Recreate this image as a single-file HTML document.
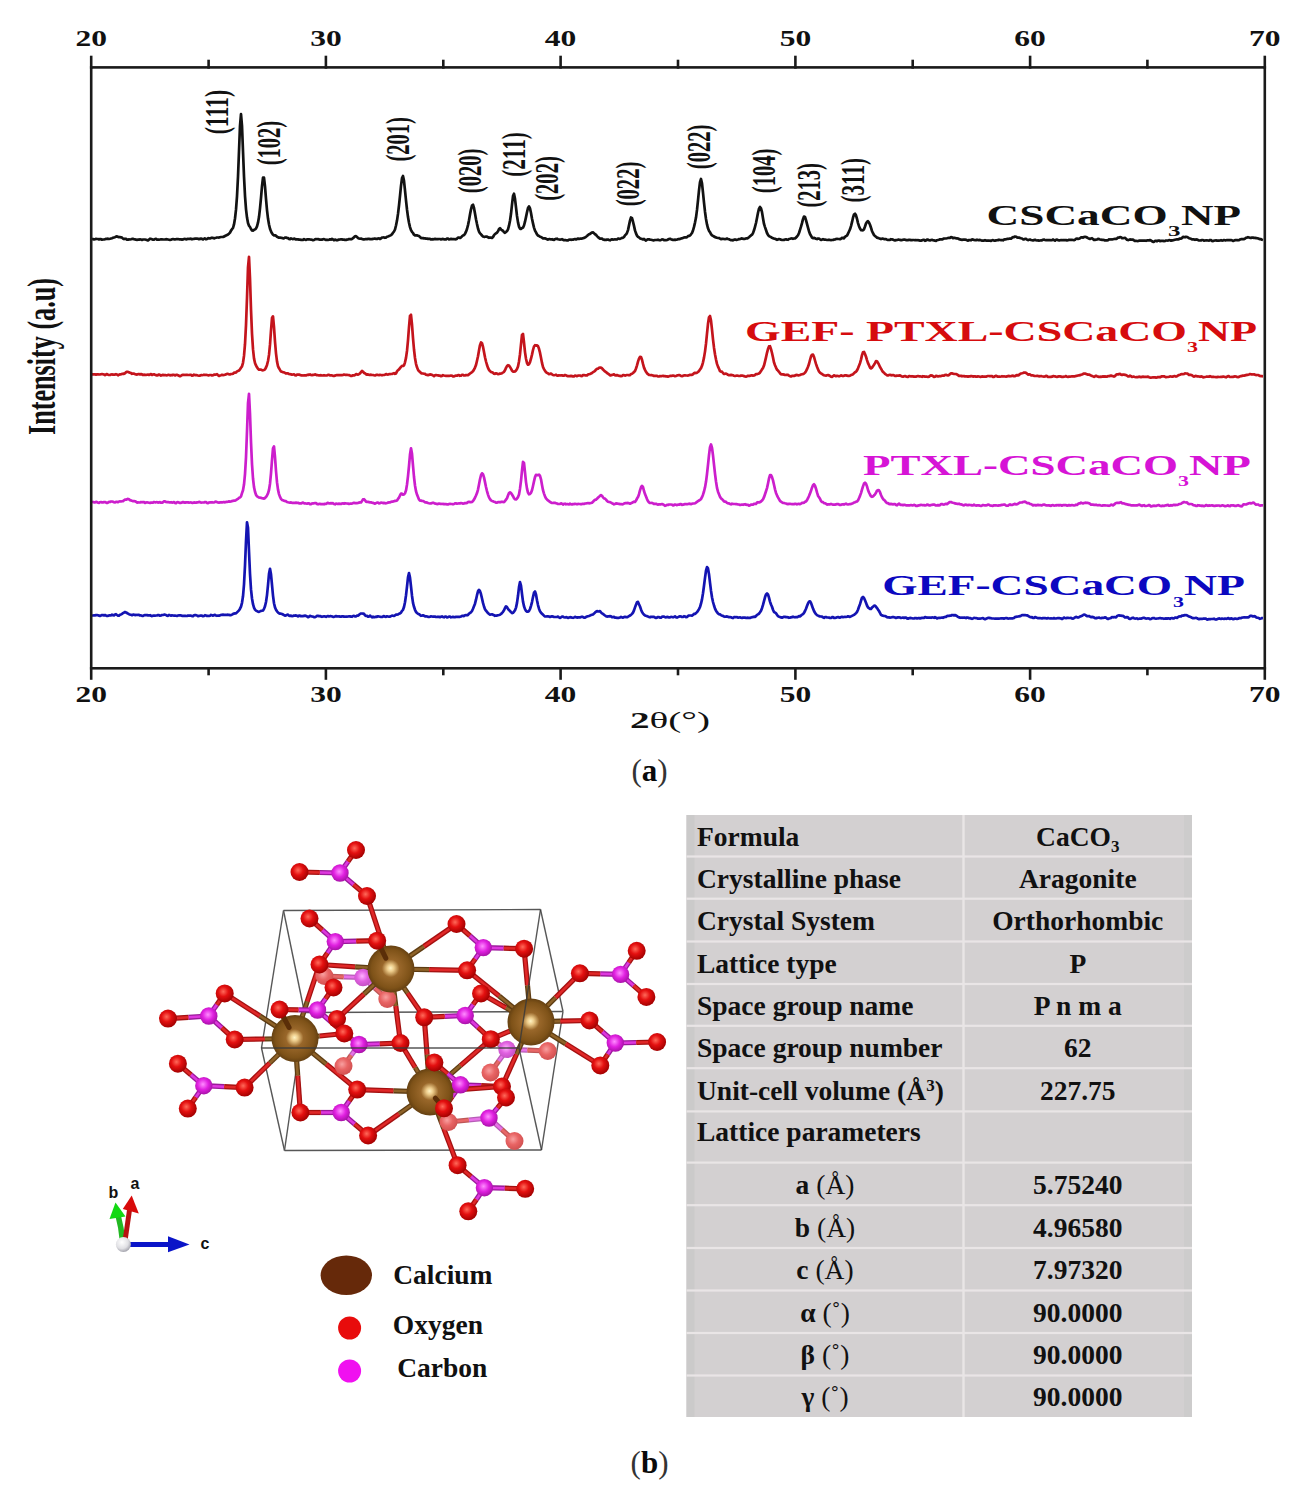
<!DOCTYPE html><html><head><meta charset="utf-8"><style>
html,body{margin:0;padding:0;background:#fff;}
body{width:1305px;height:1490px;overflow:hidden;position:relative;}
svg{position:absolute;left:0;top:0;}
svg{font-family:"Liberation Serif",serif;}
</style></head><body>
<svg width="1305" height="1490" viewBox="0 0 1305 1490">
<polyline fill="none" stroke="#121212" stroke-width="2.7" stroke-linejoin="round" points="92.0,239.1 93.0,239.0 94.0,239.4 95.0,239.2 96.0,238.9 97.0,239.0 98.0,239.0 99.0,239.4 100.0,239.1 101.0,239.2 102.0,239.7 103.0,239.5 104.0,239.5 105.0,239.2 106.0,238.9 107.0,238.8 108.0,238.7 109.0,239.0 110.0,238.8 111.0,238.5 112.0,238.2 113.0,237.8 114.0,237.5 115.0,237.2 116.0,236.6 117.0,236.3 118.0,236.9 119.0,237.2 120.0,237.2 121.0,237.3 122.0,237.6 123.0,238.6 124.0,239.1 125.0,238.7 126.0,238.9 127.0,239.7 128.0,239.7 129.0,239.4 130.0,239.5 131.0,239.3 132.0,238.9 133.0,238.9 134.0,239.2 135.0,239.4 136.0,239.7 137.0,239.8 138.0,239.7 139.0,239.7 140.0,239.4 141.0,239.5 142.0,239.9 143.0,239.5 144.0,239.5 145.0,239.5 146.0,239.7 147.0,240.1 148.0,240.4 149.0,239.6 150.0,238.7 151.0,238.9 152.0,239.3 153.0,239.7 154.0,239.7 155.0,239.0 156.0,238.8 157.0,239.6 158.0,239.7 159.0,239.7 160.0,239.5 161.0,239.3 162.0,239.4 163.0,239.5 164.0,239.5 165.0,239.5 166.0,239.2 167.0,239.3 168.0,239.5 169.0,239.7 170.0,239.9 171.0,239.7 172.0,239.3 173.0,239.1 174.0,239.3 175.0,239.4 176.0,239.2 177.0,239.2 178.0,239.1 179.0,239.3 180.0,239.3 181.0,239.4 182.0,239.6 183.0,239.4 184.0,239.0 185.0,238.9 186.0,239.4 187.0,239.1 188.0,238.8 189.0,239.0 190.0,238.7 191.0,238.8 192.0,239.3 193.0,239.0 194.0,238.8 195.0,238.7 196.0,238.6 197.0,238.5 198.0,238.7 199.0,239.2 200.0,238.9 201.0,238.6 202.0,238.8 203.0,239.5 204.0,238.7 205.0,238.4 206.0,239.3 207.0,239.0 208.0,238.2 209.0,238.3 210.0,238.5 211.0,238.1 212.0,237.7 213.0,237.9 214.0,238.4 215.0,238.0 216.0,237.8 217.0,237.5 218.0,237.5 219.0,237.6 220.0,237.2 221.0,237.0 222.0,237.0 223.0,236.9 224.0,236.6 225.0,236.0 226.0,235.5 227.0,235.1 228.0,234.5 229.0,233.7 230.0,232.6 231.0,230.6 232.0,229.2 233.0,228.0 234.0,224.4 235.0,218.5 236.0,209.7 237.0,196.3 238.0,176.8 239.0,151.3 240.0,125.8 241.0,114.0 242.0,125.8 243.0,151.3 244.0,176.4 245.0,195.8 246.0,209.1 247.0,217.6 248.0,223.1 249.0,225.7 250.0,227.0 251.0,229.0 252.0,230.5 253.0,230.6 254.0,229.9 255.0,229.4 256.0,228.5 257.0,226.4 258.0,222.7 259.0,217.1 260.0,208.4 261.0,197.8 262.0,186.2 263.0,177.6 264.0,177.6 265.0,186.3 266.0,198.8 267.0,210.1 268.0,218.6 269.0,224.5 270.0,228.7 271.0,231.4 272.0,233.3 273.0,234.7 274.0,235.3 275.0,235.3 276.0,235.8 277.0,236.8 278.0,237.2 279.0,237.7 280.0,237.6 281.0,237.8 282.0,237.9 283.0,238.4 284.0,238.3 285.0,237.5 286.0,237.6 287.0,237.9 288.0,238.1 289.0,238.9 290.0,239.2 291.0,238.4 292.0,238.8 293.0,239.1 294.0,238.6 295.0,239.0 296.0,239.5 297.0,239.2 298.0,239.4 299.0,239.6 300.0,239.7 301.0,239.8 302.0,239.8 303.0,239.8 304.0,239.1 305.0,239.7 306.0,239.9 307.0,239.3 308.0,239.3 309.0,239.3 310.0,239.5 311.0,239.6 312.0,239.8 313.0,240.2 314.0,240.0 315.0,239.3 316.0,239.0 317.0,239.2 318.0,239.0 319.0,239.4 320.0,239.7 321.0,239.5 322.0,239.6 323.0,239.3 324.0,239.1 325.0,239.6 326.0,240.0 327.0,239.7 328.0,240.0 329.0,239.8 330.0,239.3 331.0,239.6 332.0,238.9 333.0,239.5 334.0,240.3 335.0,239.5 336.0,239.9 337.0,240.3 338.0,239.9 339.0,239.6 340.0,239.5 341.0,239.3 342.0,239.4 343.0,239.7 344.0,239.5 345.0,239.9 346.0,239.9 347.0,239.6 348.0,239.5 349.0,239.1 350.0,239.0 351.0,239.3 352.0,238.9 353.0,238.2 354.0,237.2 355.0,236.3 356.0,236.2 357.0,237.1 358.0,238.0 359.0,238.5 360.0,238.7 361.0,238.5 362.0,238.9 363.0,239.3 364.0,239.4 365.0,239.2 366.0,239.2 367.0,239.2 368.0,238.9 369.0,238.9 370.0,239.1 371.0,239.0 372.0,239.1 373.0,238.9 374.0,238.7 375.0,238.7 376.0,238.8 377.0,239.0 378.0,238.5 379.0,238.4 380.0,239.0 381.0,238.4 382.0,237.5 383.0,237.5 384.0,237.4 385.0,237.8 386.0,237.6 387.0,236.7 388.0,236.5 389.0,236.1 390.0,235.6 391.0,235.1 392.0,234.3 393.0,232.8 394.0,231.5 395.0,229.5 396.0,225.5 397.0,220.6 398.0,213.9 399.0,205.5 400.0,195.9 401.0,185.8 402.0,178.1 403.0,176.0 404.0,180.8 405.0,190.4 406.0,200.3 407.0,209.5 408.0,217.1 409.0,222.8 410.0,227.1 411.0,230.1 412.0,231.8 413.0,233.0 414.0,234.7 415.0,235.4 416.0,235.2 417.0,235.4 418.0,235.7 419.0,236.0 420.0,236.9 421.0,238.0 422.0,238.2 423.0,238.1 424.0,238.4 425.0,238.4 426.0,238.6 427.0,238.6 428.0,238.9 429.0,238.7 430.0,238.9 431.0,239.5 432.0,239.2 433.0,239.3 434.0,239.2 435.0,238.9 436.0,239.1 437.0,239.2 438.0,239.1 439.0,239.0 440.0,239.0 441.0,239.4 442.0,239.0 443.0,238.9 444.0,239.3 445.0,239.4 446.0,239.5 447.0,238.6 448.0,238.6 449.0,239.4 450.0,239.2 451.0,238.9 452.0,239.1 453.0,239.0 454.0,239.1 455.0,239.3 456.0,239.2 457.0,238.7 458.0,237.5 459.0,237.6 460.0,238.0 461.0,237.4 462.0,236.3 463.0,235.5 464.0,235.1 465.0,233.8 466.0,231.7 467.0,229.0 468.0,225.1 469.0,220.3 470.0,214.5 471.0,209.3 472.0,205.5 473.0,204.7 474.0,208.0 475.0,213.6 476.0,219.2 477.0,224.1 478.0,228.5 479.0,231.6 480.0,233.3 481.0,234.2 482.0,235.6 483.0,236.5 484.0,236.8 485.0,236.8 486.0,236.6 487.0,236.6 488.0,237.3 489.0,237.8 490.0,237.5 491.0,237.6 492.0,237.9 493.0,237.0 494.0,235.3 495.0,234.0 496.0,233.3 497.0,232.6 498.0,231.3 499.0,229.1 500.0,228.2 501.0,229.4 502.0,230.3 503.0,230.8 504.0,232.2 505.0,232.8 506.0,232.0 507.0,231.1 508.0,229.3 509.0,225.7 510.0,220.8 511.0,213.8 512.0,204.6 513.0,196.1 514.0,193.7 515.0,198.8 516.0,207.4 517.0,216.0 518.0,222.4 519.0,226.6 520.0,228.8 521.0,228.8 522.0,228.2 523.0,227.6 524.0,225.5 525.0,221.7 526.0,217.1 527.0,212.2 528.0,208.0 529.0,206.4 530.0,208.4 531.0,213.0 532.0,218.8 533.0,223.4 534.0,227.6 535.0,230.6 536.0,232.4 537.0,234.4 538.0,235.5 539.0,236.0 540.0,236.7 541.0,237.0 542.0,237.7 543.0,238.4 544.0,238.4 545.0,238.4 546.0,238.7 547.0,239.3 548.0,239.6 549.0,239.1 550.0,239.2 551.0,239.4 552.0,239.2 553.0,239.7 554.0,239.8 555.0,239.2 556.0,238.9 557.0,238.7 558.0,239.3 559.0,239.5 560.0,239.6 561.0,239.5 562.0,239.2 563.0,239.7 564.0,240.2 565.0,240.2 566.0,240.2 567.0,240.4 568.0,240.4 569.0,239.7 570.0,239.5 571.0,239.8 572.0,239.7 573.0,239.7 574.0,239.3 575.0,239.0 576.0,239.5 577.0,239.0 578.0,238.6 579.0,239.0 580.0,238.7 581.0,238.6 582.0,238.6 583.0,238.2 584.0,237.9 585.0,237.5 586.0,236.8 587.0,236.0 588.0,235.1 589.0,234.3 590.0,233.9 591.0,233.1 592.0,232.5 593.0,232.4 594.0,233.2 595.0,234.3 596.0,234.8 597.0,236.1 598.0,237.1 599.0,237.9 600.0,238.7 601.0,238.7 602.0,238.6 603.0,239.5 604.0,239.8 605.0,239.7 606.0,239.9 607.0,239.6 608.0,239.5 609.0,240.0 610.0,240.3 611.0,239.7 612.0,239.3 613.0,239.6 614.0,239.5 615.0,239.3 616.0,239.5 617.0,239.4 618.0,238.7 619.0,238.7 620.0,238.9 621.0,238.4 622.0,237.8 623.0,237.8 624.0,237.0 625.0,235.4 626.0,234.4 627.0,232.9 628.0,230.1 629.0,225.4 630.0,220.6 631.0,217.5 632.0,218.2 633.0,221.7 634.0,225.9 635.0,230.4 636.0,233.4 637.0,235.6 638.0,236.8 639.0,237.4 640.0,238.4 641.0,238.7 642.0,239.1 643.0,239.5 644.0,238.9 645.0,239.9 646.0,240.6 647.0,239.7 648.0,239.3 649.0,239.3 650.0,239.6 651.0,239.8 652.0,240.0 653.0,240.3 654.0,240.3 655.0,240.0 656.0,240.0 657.0,239.9 658.0,239.7 659.0,240.1 660.0,240.3 661.0,239.9 662.0,239.4 663.0,239.5 664.0,240.1 665.0,240.0 666.0,240.2 667.0,240.0 668.0,239.5 669.0,239.0 670.0,238.8 671.0,239.3 672.0,239.6 673.0,240.0 674.0,239.8 675.0,239.7 676.0,239.8 677.0,239.6 678.0,239.2 679.0,239.2 680.0,238.9 681.0,238.5 682.0,238.4 683.0,237.9 684.0,237.5 685.0,237.3 686.0,237.4 687.0,237.1 688.0,236.1 689.0,235.9 690.0,235.5 691.0,234.3 692.0,233.0 693.0,230.5 694.0,226.9 695.0,222.6 696.0,217.6 697.0,209.9 698.0,200.4 699.0,190.4 700.0,182.1 701.0,179.0 702.0,183.3 703.0,192.6 704.0,202.6 705.0,211.7 706.0,219.0 707.0,224.4 708.0,228.3 709.0,230.7 710.0,232.2 711.0,234.1 712.0,235.4 713.0,235.9 714.0,236.5 715.0,237.1 716.0,237.4 717.0,237.8 718.0,238.0 719.0,238.0 720.0,238.6 721.0,239.2 722.0,238.8 723.0,238.9 724.0,239.0 725.0,239.1 726.0,239.0 727.0,238.6 728.0,239.0 729.0,239.3 730.0,239.8 731.0,240.1 732.0,240.2 733.0,240.3 734.0,239.8 735.0,239.4 736.0,239.8 737.0,239.8 738.0,239.5 739.0,239.1 740.0,239.1 741.0,238.6 742.0,238.4 743.0,238.8 744.0,238.9 745.0,238.9 746.0,238.4 747.0,238.5 748.0,238.0 749.0,237.2 750.0,236.3 751.0,235.4 752.0,234.7 753.0,233.1 754.0,230.3 755.0,226.8 756.0,223.0 757.0,217.9 758.0,212.7 759.0,208.6 760.0,207.0 761.0,208.3 762.0,212.1 763.0,218.2 764.0,223.9 765.0,227.1 766.0,230.0 767.0,233.0 768.0,234.9 769.0,236.1 770.0,236.6 771.0,237.2 772.0,237.8 773.0,238.2 774.0,238.6 775.0,238.8 776.0,239.3 777.0,239.8 778.0,239.4 779.0,239.0 780.0,239.2 781.0,239.7 782.0,239.9 783.0,240.0 784.0,239.9 785.0,239.5 786.0,239.3 787.0,239.6 788.0,239.8 789.0,239.0 790.0,238.8 791.0,238.5 792.0,238.4 793.0,238.8 794.0,238.5 795.0,238.4 796.0,237.6 797.0,236.5 798.0,235.2 799.0,233.0 800.0,229.8 801.0,226.7 802.0,223.2 803.0,219.2 804.0,216.6 805.0,217.0 806.0,220.1 807.0,223.9 808.0,227.7 809.0,231.2 810.0,234.0 811.0,235.7 812.0,237.6 813.0,238.2 814.0,237.9 815.0,238.2 816.0,238.7 817.0,239.1 818.0,238.5 819.0,238.5 820.0,239.3 821.0,239.9 822.0,239.6 823.0,239.2 824.0,239.6 825.0,239.6 826.0,239.8 827.0,240.0 828.0,239.9 829.0,239.7 830.0,240.0 831.0,240.1 832.0,240.0 833.0,239.9 834.0,239.6 835.0,239.5 836.0,239.0 837.0,238.9 838.0,239.0 839.0,239.0 840.0,239.2 841.0,238.7 842.0,237.8 843.0,238.2 844.0,238.3 845.0,236.8 846.0,236.1 847.0,235.6 848.0,233.6 849.0,231.5 850.0,229.3 851.0,226.1 852.0,222.2 853.0,217.7 854.0,214.5 855.0,213.7 856.0,215.3 857.0,218.8 858.0,223.1 859.0,226.2 860.0,228.6 861.0,230.1 862.0,230.3 863.0,230.2 864.0,229.2 865.0,226.5 866.0,223.5 867.0,221.9 868.0,221.2 869.0,222.6 870.0,224.8 871.0,227.7 872.0,231.0 873.0,233.2 874.0,235.0 875.0,235.9 876.0,236.8 877.0,237.6 878.0,237.9 879.0,238.3 880.0,238.6 881.0,239.1 882.0,238.7 883.0,238.6 884.0,239.1 885.0,239.1 886.0,239.1 887.0,239.7 888.0,240.0 889.0,239.9 890.0,239.8 891.0,239.2 892.0,239.4 893.0,239.6 894.0,240.2 895.0,240.4 896.0,240.1 897.0,240.0 898.0,239.7 899.0,239.7 900.0,239.9 901.0,240.2 902.0,240.1 903.0,239.7 904.0,239.5 905.0,239.6 906.0,240.1 907.0,240.2 908.0,240.1 909.0,239.8 910.0,239.9 911.0,240.2 912.0,240.1 913.0,240.0 914.0,240.0 915.0,240.2 916.0,240.2 917.0,240.0 918.0,240.2 919.0,240.3 920.0,240.6 921.0,240.6 922.0,240.4 923.0,239.8 924.0,239.8 925.0,240.8 926.0,240.4 927.0,239.6 928.0,239.7 929.0,240.2 930.0,240.4 931.0,240.0 932.0,239.9 933.0,240.2 934.0,240.4 935.0,240.7 936.0,240.8 937.0,240.2 938.0,240.0 939.0,239.8 940.0,239.3 941.0,239.3 942.0,239.5 943.0,239.0 944.0,238.5 945.0,238.5 946.0,238.5 947.0,238.3 948.0,238.0 949.0,237.8 950.0,237.8 951.0,237.2 952.0,237.3 953.0,238.1 954.0,237.9 955.0,237.9 956.0,238.3 957.0,238.3 958.0,238.5 959.0,239.1 960.0,239.4 961.0,239.7 962.0,239.8 963.0,239.7 964.0,239.6 965.0,239.6 966.0,239.8 967.0,240.3 968.0,240.6 969.0,240.0 970.0,240.0 971.0,240.3 972.0,239.4 973.0,239.6 974.0,240.0 975.0,240.1 976.0,240.2 977.0,239.7 978.0,240.1 979.0,240.1 980.0,239.9 981.0,240.3 982.0,240.6 983.0,240.7 984.0,240.6 985.0,240.2 986.0,240.6 987.0,240.7 988.0,240.7 989.0,240.7 990.0,240.5 991.0,240.9 992.0,240.3 993.0,240.1 994.0,240.6 995.0,240.6 996.0,240.4 997.0,240.2 998.0,240.2 999.0,239.7 1000.0,240.0 1001.0,240.1 1002.0,240.1 1003.0,240.3 1004.0,239.6 1005.0,239.3 1006.0,239.3 1007.0,238.9 1008.0,238.9 1009.0,238.7 1010.0,238.7 1011.0,238.7 1012.0,237.7 1013.0,237.2 1014.0,237.1 1015.0,236.5 1016.0,236.7 1017.0,237.4 1018.0,237.6 1019.0,237.5 1020.0,237.9 1021.0,238.3 1022.0,238.5 1023.0,239.3 1024.0,239.4 1025.0,238.8 1026.0,238.9 1027.0,239.6 1028.0,240.1 1029.0,239.8 1030.0,239.5 1031.0,240.0 1032.0,240.2 1033.0,240.4 1034.0,240.1 1035.0,239.8 1036.0,240.3 1037.0,240.5 1038.0,240.4 1039.0,240.6 1040.0,240.5 1041.0,240.4 1042.0,240.3 1043.0,239.8 1044.0,239.6 1045.0,240.0 1046.0,240.2 1047.0,240.1 1048.0,240.2 1049.0,240.1 1050.0,240.1 1051.0,240.3 1052.0,240.1 1053.0,239.5 1054.0,240.1 1055.0,240.7 1056.0,239.7 1057.0,239.5 1058.0,240.2 1059.0,240.3 1060.0,240.3 1061.0,240.1 1062.0,240.0 1063.0,240.2 1064.0,240.1 1065.0,240.1 1066.0,240.1 1067.0,240.4 1068.0,240.2 1069.0,239.8 1070.0,239.9 1071.0,239.9 1072.0,239.9 1073.0,240.0 1074.0,240.1 1075.0,239.8 1076.0,238.7 1077.0,238.5 1078.0,238.9 1079.0,238.7 1080.0,238.3 1081.0,237.4 1082.0,237.3 1083.0,237.6 1084.0,237.0 1085.0,236.8 1086.0,237.0 1087.0,237.5 1088.0,238.1 1089.0,238.6 1090.0,238.9 1091.0,238.5 1092.0,238.2 1093.0,239.0 1094.0,240.0 1095.0,239.8 1096.0,239.7 1097.0,239.5 1098.0,238.9 1099.0,239.1 1100.0,239.5 1101.0,239.7 1102.0,239.8 1103.0,239.8 1104.0,240.0 1105.0,240.5 1106.0,240.3 1107.0,240.4 1108.0,240.2 1109.0,239.4 1110.0,239.5 1111.0,239.4 1112.0,239.5 1113.0,239.2 1114.0,239.0 1115.0,238.9 1116.0,239.0 1117.0,238.5 1118.0,237.6 1119.0,237.7 1120.0,237.1 1121.0,237.3 1122.0,238.1 1123.0,238.2 1124.0,238.0 1125.0,237.9 1126.0,238.7 1127.0,239.7 1128.0,240.1 1129.0,239.8 1130.0,239.4 1131.0,239.7 1132.0,239.6 1133.0,239.6 1134.0,240.4 1135.0,241.0 1136.0,240.9 1137.0,241.0 1138.0,241.1 1139.0,240.7 1140.0,240.6 1141.0,240.7 1142.0,240.7 1143.0,240.6 1144.0,240.5 1145.0,240.6 1146.0,240.8 1147.0,240.4 1148.0,240.3 1149.0,240.5 1150.0,240.0 1151.0,240.4 1152.0,241.3 1153.0,241.8 1154.0,241.8 1155.0,240.9 1156.0,240.8 1157.0,241.3 1158.0,240.5 1159.0,240.5 1160.0,241.1 1161.0,240.9 1162.0,240.8 1163.0,240.8 1164.0,241.1 1165.0,241.0 1166.0,240.5 1167.0,240.5 1168.0,240.6 1169.0,240.1 1170.0,240.3 1171.0,240.7 1172.0,240.4 1173.0,240.3 1174.0,240.0 1175.0,239.7 1176.0,239.5 1177.0,239.4 1178.0,239.4 1179.0,239.1 1180.0,238.5 1181.0,238.6 1182.0,238.0 1183.0,236.9 1184.0,237.1 1185.0,237.3 1186.0,236.8 1187.0,237.0 1188.0,237.5 1189.0,238.2 1190.0,238.5 1191.0,238.8 1192.0,239.4 1193.0,239.3 1194.0,239.4 1195.0,239.8 1196.0,239.4 1197.0,239.5 1198.0,240.1 1199.0,240.5 1200.0,240.5 1201.0,240.4 1202.0,240.0 1203.0,240.0 1204.0,240.7 1205.0,240.5 1206.0,240.4 1207.0,240.4 1208.0,240.5 1209.0,240.6 1210.0,240.0 1211.0,240.0 1212.0,241.0 1213.0,241.1 1214.0,240.6 1215.0,240.5 1216.0,240.4 1217.0,240.6 1218.0,240.5 1219.0,240.6 1220.0,240.5 1221.0,240.2 1222.0,240.6 1223.0,240.5 1224.0,240.1 1225.0,240.3 1226.0,240.3 1227.0,240.1 1228.0,240.1 1229.0,240.1 1230.0,240.2 1231.0,240.1 1232.0,240.3 1233.0,240.9 1234.0,240.6 1235.0,240.2 1236.0,240.1 1237.0,240.0 1238.0,240.3 1239.0,240.1 1240.0,239.5 1241.0,239.2 1242.0,239.1 1243.0,239.0 1244.0,239.2 1245.0,238.6 1246.0,237.8 1247.0,237.6 1248.0,237.2 1249.0,237.5 1250.0,237.8 1251.0,237.9 1252.0,237.6 1253.0,237.6 1254.0,238.0 1255.0,237.8 1256.0,238.1 1257.0,238.2 1258.0,238.4 1259.0,238.9 1260.0,239.1 1261.0,239.2 1262.0,239.7 1263.0,240.0"/>
<polyline fill="none" stroke="#c4141c" stroke-width="2.7" stroke-linejoin="round" points="92.0,374.4 93.0,374.4 94.0,374.4 95.0,374.4 96.0,374.6 97.0,374.4 98.0,374.3 99.0,374.5 100.0,374.4 101.0,374.2 102.0,374.0 103.0,374.2 104.0,374.5 105.0,375.1 106.0,374.5 107.0,374.0 108.0,374.7 109.0,375.0 110.0,375.0 111.0,374.5 112.0,374.4 113.0,374.7 114.0,374.6 115.0,374.6 116.0,374.2 117.0,374.5 118.0,375.3 119.0,374.7 120.0,374.4 121.0,374.4 122.0,373.9 123.0,373.7 124.0,373.8 125.0,373.3 126.0,372.3 127.0,371.8 128.0,371.8 129.0,372.4 130.0,372.7 131.0,373.1 132.0,373.8 133.0,373.5 134.0,373.6 135.0,374.2 136.0,374.4 137.0,374.6 138.0,374.1 139.0,374.1 140.0,374.5 141.0,374.1 142.0,374.4 143.0,375.0 144.0,374.7 145.0,374.8 146.0,374.9 147.0,374.7 148.0,374.5 149.0,374.9 150.0,374.5 151.0,374.1 152.0,375.0 153.0,374.5 154.0,374.3 155.0,374.8 156.0,375.1 157.0,375.4 158.0,375.1 159.0,374.5 160.0,374.9 161.0,375.6 162.0,375.1 163.0,374.9 164.0,375.2 165.0,375.2 166.0,375.2 167.0,375.4 168.0,374.9 169.0,374.9 170.0,375.4 171.0,375.1 172.0,375.3 173.0,374.8 174.0,374.8 175.0,375.5 176.0,374.9 177.0,374.9 178.0,375.2 179.0,375.7 180.0,376.2 181.0,375.7 182.0,375.1 183.0,374.8 184.0,374.9 185.0,375.0 186.0,374.8 187.0,374.8 188.0,375.0 189.0,375.0 190.0,374.9 191.0,374.8 192.0,375.6 193.0,375.5 194.0,374.6 195.0,375.1 196.0,375.2 197.0,375.2 198.0,375.5 199.0,375.7 200.0,375.7 201.0,375.1 202.0,375.2 203.0,375.0 204.0,374.7 205.0,375.0 206.0,374.8 207.0,375.0 208.0,375.3 209.0,375.3 210.0,375.0 211.0,375.0 212.0,375.4 213.0,375.2 214.0,374.7 215.0,374.6 216.0,374.6 217.0,374.1 218.0,375.2 219.0,376.0 220.0,375.5 221.0,375.2 222.0,374.8 223.0,375.1 224.0,375.0 225.0,374.7 226.0,374.4 227.0,373.8 228.0,373.9 229.0,374.4 230.0,374.4 231.0,374.0 232.0,374.0 233.0,373.7 234.0,372.7 235.0,372.7 236.0,372.5 237.0,371.4 238.0,370.9 239.0,370.5 240.0,369.4 241.0,367.7 242.0,366.4 243.0,362.8 244.0,355.9 245.0,344.2 246.0,325.1 247.0,298.0 248.0,267.4 249.0,256.8 250.0,278.5 251.0,309.6 252.0,333.6 253.0,349.2 254.0,358.4 255.0,363.0 256.0,365.4 257.0,367.3 258.0,368.8 259.0,369.7 260.0,369.6 261.0,369.6 262.0,370.2 263.0,370.3 264.0,370.0 265.0,369.3 266.0,367.5 267.0,364.9 268.0,361.0 269.0,354.9 270.0,344.7 271.0,330.5 272.0,318.0 273.0,316.3 274.0,327.2 275.0,341.6 276.0,353.3 277.0,361.4 278.0,366.2 279.0,368.3 280.0,369.9 281.0,371.4 282.0,371.8 283.0,372.2 284.0,372.4 285.0,372.9 286.0,373.5 287.0,373.4 288.0,373.4 289.0,374.0 290.0,374.2 291.0,374.3 292.0,374.7 293.0,374.5 294.0,374.3 295.0,375.2 296.0,375.3 297.0,374.6 298.0,374.7 299.0,374.6 300.0,374.9 301.0,375.3 302.0,375.4 303.0,375.5 304.0,375.4 305.0,375.4 306.0,375.4 307.0,375.0 308.0,374.7 309.0,374.8 310.0,374.4 311.0,375.0 312.0,375.2 313.0,374.8 314.0,374.9 315.0,374.4 316.0,374.7 317.0,375.2 318.0,375.2 319.0,375.4 320.0,375.3 321.0,375.2 322.0,375.5 323.0,375.4 324.0,375.2 325.0,375.4 326.0,375.5 327.0,375.4 328.0,374.8 329.0,374.8 330.0,375.5 331.0,375.4 332.0,375.4 333.0,375.9 334.0,375.9 335.0,375.6 336.0,375.3 337.0,375.0 338.0,375.1 339.0,375.0 340.0,375.1 341.0,375.2 342.0,375.1 343.0,375.0 344.0,374.6 345.0,374.8 346.0,374.9 347.0,374.9 348.0,375.0 349.0,375.1 350.0,375.5 351.0,375.9 352.0,375.8 353.0,375.3 354.0,375.5 355.0,375.1 356.0,374.1 357.0,374.4 358.0,374.7 359.0,374.1 360.0,373.4 361.0,372.1 362.0,371.0 363.0,371.6 364.0,372.9 365.0,373.3 366.0,374.3 367.0,374.7 368.0,374.4 369.0,374.9 370.0,374.8 371.0,374.7 372.0,375.0 373.0,375.0 374.0,375.3 375.0,375.5 376.0,375.0 377.0,374.7 378.0,375.0 379.0,375.1 380.0,374.9 381.0,375.0 382.0,375.3 383.0,375.0 384.0,375.0 385.0,374.7 386.0,374.0 387.0,374.5 388.0,374.6 389.0,374.1 390.0,374.1 391.0,374.0 392.0,374.0 393.0,373.6 394.0,373.1 395.0,373.8 396.0,373.4 397.0,371.3 398.0,370.2 399.0,369.4 400.0,368.1 401.0,366.9 402.0,365.9 403.0,366.0 404.0,365.4 405.0,362.3 406.0,357.9 407.0,350.9 408.0,340.3 409.0,327.0 410.0,315.9 411.0,314.8 412.0,324.7 413.0,338.1 414.0,349.5 415.0,358.0 416.0,363.8 417.0,367.3 418.0,369.7 419.0,371.2 420.0,371.9 421.0,373.0 422.0,373.5 423.0,373.5 424.0,373.7 425.0,373.9 426.0,374.7 427.0,374.9 428.0,375.1 429.0,374.9 430.0,374.3 431.0,374.7 432.0,374.8 433.0,375.5 434.0,376.2 435.0,375.3 436.0,375.0 437.0,375.2 438.0,375.4 439.0,375.6 440.0,375.7 441.0,376.2 442.0,375.9 443.0,375.2 444.0,375.5 445.0,375.7 446.0,375.9 447.0,375.9 448.0,375.8 449.0,375.9 450.0,375.7 451.0,375.5 452.0,375.7 453.0,376.4 454.0,376.4 455.0,375.8 456.0,375.7 457.0,375.7 458.0,375.2 459.0,375.2 460.0,375.8 461.0,375.6 462.0,374.8 463.0,374.9 464.0,375.5 465.0,375.5 466.0,375.1 467.0,375.2 468.0,375.1 469.0,374.4 470.0,373.5 471.0,372.8 472.0,372.1 473.0,371.2 474.0,369.5 475.0,367.6 476.0,365.0 477.0,360.7 478.0,356.2 479.0,350.5 480.0,345.1 481.0,342.4 482.0,343.2 483.0,346.8 484.0,352.0 485.0,357.3 486.0,361.5 487.0,365.0 488.0,367.9 489.0,369.9 490.0,371.1 491.0,372.0 492.0,372.3 493.0,372.8 494.0,373.7 495.0,373.8 496.0,373.3 497.0,373.6 498.0,374.2 499.0,374.0 500.0,373.5 501.0,373.6 502.0,373.2 503.0,372.5 504.0,371.8 505.0,370.2 506.0,367.9 507.0,366.1 508.0,365.2 509.0,365.5 510.0,367.0 511.0,368.6 512.0,370.6 513.0,371.7 514.0,371.6 515.0,371.5 516.0,370.5 517.0,369.0 518.0,366.6 519.0,361.4 520.0,354.2 521.0,344.4 522.0,334.9 523.0,333.9 524.0,342.5 525.0,352.1 526.0,358.7 527.0,363.0 528.0,364.7 529.0,364.2 530.0,362.1 531.0,358.7 532.0,354.6 533.0,350.0 534.0,346.5 535.0,345.2 536.0,345.6 537.0,345.4 538.0,346.1 539.0,348.8 540.0,352.7 541.0,357.8 542.0,362.9 543.0,367.0 544.0,369.1 545.0,370.7 546.0,372.1 547.0,372.8 548.0,373.4 549.0,374.1 550.0,374.0 551.0,373.5 552.0,374.3 553.0,375.0 554.0,375.2 555.0,375.0 556.0,374.7 557.0,375.6 558.0,375.6 559.0,375.3 560.0,375.5 561.0,375.4 562.0,375.3 563.0,375.7 564.0,375.6 565.0,375.0 566.0,375.3 567.0,375.9 568.0,376.2 569.0,376.1 570.0,376.1 571.0,375.9 572.0,376.1 573.0,376.4 574.0,376.3 575.0,375.6 576.0,375.8 577.0,376.2 578.0,375.6 579.0,375.5 580.0,375.5 581.0,376.0 582.0,376.1 583.0,375.0 584.0,375.1 585.0,375.3 586.0,375.4 587.0,375.5 588.0,374.6 589.0,374.2 590.0,374.0 591.0,373.5 592.0,373.1 593.0,372.1 594.0,371.6 595.0,370.9 596.0,369.6 597.0,368.9 598.0,368.7 599.0,367.8 600.0,367.6 601.0,367.7 602.0,368.2 603.0,369.6 604.0,370.5 605.0,371.4 606.0,372.1 607.0,373.0 608.0,373.6 609.0,374.3 610.0,375.3 611.0,375.3 612.0,374.9 613.0,374.7 614.0,374.3 615.0,375.2 616.0,375.5 617.0,375.0 618.0,375.4 619.0,375.9 620.0,375.9 621.0,376.2 622.0,376.0 623.0,375.1 624.0,375.1 625.0,375.6 626.0,375.3 627.0,375.0 628.0,375.0 629.0,375.3 630.0,375.1 631.0,374.0 632.0,373.8 633.0,373.0 634.0,372.0 635.0,371.0 636.0,368.5 637.0,365.3 638.0,361.7 639.0,358.6 640.0,356.8 641.0,357.0 642.0,359.8 643.0,363.9 644.0,367.6 645.0,369.9 646.0,371.8 647.0,373.2 648.0,374.2 649.0,374.9 650.0,375.0 651.0,375.2 652.0,375.2 653.0,375.5 654.0,376.0 655.0,375.8 656.0,375.8 657.0,375.8 658.0,376.5 659.0,376.5 660.0,376.1 661.0,376.3 662.0,376.0 663.0,375.9 664.0,376.1 665.0,376.2 666.0,376.3 667.0,376.4 668.0,376.6 669.0,376.3 670.0,375.9 671.0,375.9 672.0,375.8 673.0,375.5 674.0,375.8 675.0,376.2 676.0,376.0 677.0,375.6 678.0,375.2 679.0,375.0 680.0,375.3 681.0,376.0 682.0,376.1 683.0,375.9 684.0,375.4 685.0,375.3 686.0,375.5 687.0,375.5 688.0,375.6 689.0,375.2 690.0,374.8 691.0,374.9 692.0,374.8 693.0,374.3 694.0,373.3 695.0,372.8 696.0,373.1 697.0,372.7 698.0,372.0 699.0,371.0 700.0,369.5 701.0,368.1 702.0,365.8 703.0,362.3 704.0,357.6 705.0,351.6 706.0,343.7 707.0,333.6 708.0,323.8 709.0,317.3 710.0,316.0 711.0,320.6 712.0,329.7 713.0,339.4 714.0,347.7 715.0,354.3 716.0,359.5 717.0,363.9 718.0,366.6 719.0,368.8 720.0,371.1 721.0,371.7 722.0,371.7 723.0,373.0 724.0,373.9 725.0,373.8 726.0,373.6 727.0,374.2 728.0,374.8 729.0,375.2 730.0,375.1 731.0,374.9 732.0,375.1 733.0,375.3 734.0,375.7 735.0,376.0 736.0,375.7 737.0,375.5 738.0,375.7 739.0,376.0 740.0,376.0 741.0,375.6 742.0,375.5 743.0,375.8 744.0,376.1 745.0,376.5 746.0,376.6 747.0,376.3 748.0,375.8 749.0,375.8 750.0,375.8 751.0,375.4 752.0,375.4 753.0,375.6 754.0,375.5 755.0,375.0 756.0,374.1 757.0,374.1 758.0,373.8 759.0,373.4 760.0,372.6 761.0,371.1 762.0,369.4 763.0,368.0 764.0,365.6 765.0,361.6 766.0,357.4 767.0,352.8 768.0,349.0 769.0,346.4 770.0,346.2 771.0,349.1 772.0,353.0 773.0,357.5 774.0,362.4 775.0,365.2 776.0,367.6 777.0,369.7 778.0,370.6 779.0,371.8 780.0,373.2 781.0,374.2 782.0,374.4 783.0,374.4 784.0,374.6 785.0,374.9 786.0,375.0 787.0,374.7 788.0,374.9 789.0,375.6 790.0,376.2 791.0,376.5 792.0,375.9 793.0,375.8 794.0,375.9 795.0,375.6 796.0,375.0 797.0,374.9 798.0,375.3 799.0,375.3 800.0,375.0 801.0,374.5 802.0,374.3 803.0,374.1 804.0,373.6 805.0,372.6 806.0,371.2 807.0,369.2 808.0,366.8 809.0,364.0 810.0,360.0 811.0,356.5 812.0,354.7 813.0,354.5 814.0,356.9 815.0,360.5 816.0,363.9 817.0,366.8 818.0,369.2 819.0,371.5 820.0,372.7 821.0,373.4 822.0,374.0 823.0,374.7 824.0,375.2 825.0,375.5 826.0,375.6 827.0,375.3 828.0,375.1 829.0,375.4 830.0,376.0 831.0,376.7 832.0,376.8 833.0,376.2 834.0,375.4 835.0,375.7 836.0,376.2 837.0,375.8 838.0,376.0 839.0,376.3 840.0,375.9 841.0,375.4 842.0,375.7 843.0,376.1 844.0,375.7 845.0,375.4 846.0,375.3 847.0,375.7 848.0,375.8 849.0,375.8 850.0,375.7 851.0,375.1 852.0,374.7 853.0,374.3 854.0,373.2 855.0,372.3 856.0,371.8 857.0,370.4 858.0,368.3 859.0,365.8 860.0,363.2 861.0,359.6 862.0,355.1 863.0,352.3 864.0,351.9 865.0,354.0 866.0,356.7 867.0,360.1 868.0,363.1 869.0,365.2 870.0,367.6 871.0,368.4 872.0,367.6 873.0,366.2 874.0,364.8 875.0,363.1 876.0,361.2 877.0,361.3 878.0,362.9 879.0,364.7 880.0,367.0 881.0,368.6 882.0,370.4 883.0,371.9 884.0,372.7 885.0,373.8 886.0,374.5 887.0,375.3 888.0,375.4 889.0,375.0 890.0,374.8 891.0,375.2 892.0,375.3 893.0,375.0 894.0,375.3 895.0,375.9 896.0,375.9 897.0,375.5 898.0,375.7 899.0,375.7 900.0,375.3 901.0,376.0 902.0,376.5 903.0,376.7 904.0,376.3 905.0,376.1 906.0,376.4 907.0,376.8 908.0,376.8 909.0,376.1 910.0,376.2 911.0,376.4 912.0,376.2 913.0,376.4 914.0,376.7 915.0,376.7 916.0,376.6 917.0,376.3 918.0,376.0 919.0,376.3 920.0,376.3 921.0,376.5 922.0,376.8 923.0,376.2 924.0,376.4 925.0,376.6 926.0,376.7 927.0,376.7 928.0,376.9 929.0,376.7 930.0,375.7 931.0,375.4 932.0,375.5 933.0,376.1 934.0,376.9 935.0,376.7 936.0,375.9 937.0,376.1 938.0,376.5 939.0,376.2 940.0,376.1 941.0,376.1 942.0,375.6 943.0,375.7 944.0,375.6 945.0,375.0 946.0,374.8 947.0,375.2 948.0,375.4 949.0,375.0 950.0,374.1 951.0,373.3 952.0,373.4 953.0,373.7 954.0,373.9 955.0,374.0 956.0,374.0 957.0,374.4 958.0,375.1 959.0,375.9 960.0,375.8 961.0,375.8 962.0,376.3 963.0,376.1 964.0,376.0 965.0,376.5 966.0,376.3 967.0,376.4 968.0,376.7 969.0,376.4 970.0,376.4 971.0,376.1 972.0,376.2 973.0,376.6 974.0,376.4 975.0,376.4 976.0,376.6 977.0,376.6 978.0,376.4 979.0,376.5 980.0,376.8 981.0,376.8 982.0,376.4 983.0,376.6 984.0,376.7 985.0,376.7 986.0,376.7 987.0,376.3 988.0,376.0 989.0,376.0 990.0,376.3 991.0,376.0 992.0,376.1 993.0,376.9 994.0,376.8 995.0,376.2 996.0,375.8 997.0,376.2 998.0,376.7 999.0,376.6 1000.0,376.7 1001.0,376.5 1002.0,376.2 1003.0,376.5 1004.0,376.4 1005.0,376.5 1006.0,376.6 1007.0,376.4 1008.0,376.0 1009.0,375.9 1010.0,376.3 1011.0,376.1 1012.0,375.8 1013.0,375.7 1014.0,376.2 1015.0,376.1 1016.0,375.5 1017.0,375.1 1018.0,375.4 1019.0,375.0 1020.0,373.9 1021.0,373.5 1022.0,373.3 1023.0,373.0 1024.0,372.6 1025.0,372.6 1026.0,372.9 1027.0,373.6 1028.0,374.6 1029.0,374.4 1030.0,374.4 1031.0,375.3 1032.0,375.3 1033.0,375.4 1034.0,375.9 1035.0,376.0 1036.0,376.0 1037.0,375.9 1038.0,375.9 1039.0,376.3 1040.0,376.2 1041.0,376.0 1042.0,376.3 1043.0,376.5 1044.0,376.6 1045.0,376.5 1046.0,375.9 1047.0,376.1 1048.0,376.9 1049.0,377.0 1050.0,376.9 1051.0,376.8 1052.0,376.7 1053.0,376.2 1054.0,376.2 1055.0,376.4 1056.0,376.7 1057.0,377.0 1058.0,376.6 1059.0,376.3 1060.0,376.4 1061.0,376.6 1062.0,376.9 1063.0,376.8 1064.0,376.7 1065.0,376.5 1066.0,376.0 1067.0,376.8 1068.0,377.0 1069.0,376.6 1070.0,376.6 1071.0,376.5 1072.0,376.3 1073.0,376.4 1074.0,376.3 1075.0,376.3 1076.0,375.9 1077.0,375.8 1078.0,375.5 1079.0,375.3 1080.0,375.2 1081.0,374.7 1082.0,374.5 1083.0,374.0 1084.0,373.5 1085.0,373.6 1086.0,373.9 1087.0,374.4 1088.0,374.6 1089.0,374.6 1090.0,375.0 1091.0,375.5 1092.0,375.9 1093.0,376.4 1094.0,376.9 1095.0,376.3 1096.0,375.8 1097.0,376.3 1098.0,376.6 1099.0,376.9 1100.0,376.7 1101.0,376.8 1102.0,376.7 1103.0,376.4 1104.0,376.6 1105.0,376.4 1106.0,376.7 1107.0,376.7 1108.0,376.0 1109.0,376.2 1110.0,375.9 1111.0,375.6 1112.0,375.9 1113.0,376.1 1114.0,376.6 1115.0,376.1 1116.0,374.7 1117.0,374.4 1118.0,374.5 1119.0,374.0 1120.0,373.9 1121.0,374.6 1122.0,374.9 1123.0,374.6 1124.0,374.7 1125.0,374.8 1126.0,375.1 1127.0,375.7 1128.0,376.3 1129.0,376.3 1130.0,375.7 1131.0,376.2 1132.0,376.9 1133.0,376.7 1134.0,376.7 1135.0,377.0 1136.0,377.2 1137.0,377.2 1138.0,377.1 1139.0,376.7 1140.0,376.8 1141.0,377.2 1142.0,376.8 1143.0,376.7 1144.0,376.8 1145.0,376.8 1146.0,376.8 1147.0,376.9 1148.0,376.5 1149.0,377.2 1150.0,377.6 1151.0,377.6 1152.0,377.5 1153.0,377.3 1154.0,377.4 1155.0,377.3 1156.0,377.6 1157.0,377.4 1158.0,377.1 1159.0,377.0 1160.0,377.3 1161.0,376.8 1162.0,376.3 1163.0,376.4 1164.0,376.3 1165.0,376.8 1166.0,377.2 1167.0,377.0 1168.0,377.0 1169.0,376.8 1170.0,376.4 1171.0,376.5 1172.0,376.7 1173.0,376.6 1174.0,376.1 1175.0,376.1 1176.0,376.6 1177.0,376.2 1178.0,375.5 1179.0,375.0 1180.0,374.7 1181.0,374.3 1182.0,374.0 1183.0,374.2 1184.0,374.0 1185.0,373.4 1186.0,373.5 1187.0,373.5 1188.0,374.0 1189.0,374.9 1190.0,374.7 1191.0,374.9 1192.0,375.3 1193.0,376.1 1194.0,376.7 1195.0,376.1 1196.0,375.9 1197.0,376.3 1198.0,376.4 1199.0,376.5 1200.0,376.8 1201.0,376.4 1202.0,376.5 1203.0,377.3 1204.0,377.2 1205.0,377.0 1206.0,376.8 1207.0,376.5 1208.0,376.7 1209.0,376.7 1210.0,376.2 1211.0,376.6 1212.0,376.9 1213.0,376.7 1214.0,376.9 1215.0,377.0 1216.0,377.1 1217.0,377.1 1218.0,376.9 1219.0,377.0 1220.0,377.0 1221.0,376.9 1222.0,376.8 1223.0,376.7 1224.0,376.7 1225.0,377.0 1226.0,377.3 1227.0,376.7 1228.0,376.2 1229.0,376.2 1230.0,377.0 1231.0,377.0 1232.0,376.9 1233.0,377.0 1234.0,376.6 1235.0,376.4 1236.0,376.5 1237.0,377.0 1238.0,377.1 1239.0,376.9 1240.0,376.3 1241.0,376.1 1242.0,375.9 1243.0,375.5 1244.0,375.7 1245.0,375.4 1246.0,375.1 1247.0,374.9 1248.0,374.8 1249.0,374.5 1250.0,374.1 1251.0,374.3 1252.0,374.4 1253.0,374.5 1254.0,374.3 1255.0,374.7 1256.0,375.1 1257.0,375.0 1258.0,375.0 1259.0,375.4 1260.0,376.0 1261.0,376.1 1262.0,376.2 1263.0,376.3"/>
<polyline fill="none" stroke="#cc1ecc" stroke-width="2.7" stroke-linejoin="round" points="92.0,502.3 93.0,501.9 94.0,502.3 95.0,502.4 96.0,501.8 97.0,502.1 98.0,502.7 99.0,502.8 100.0,502.2 101.0,502.0 102.0,502.4 103.0,502.5 104.0,502.1 105.0,502.1 106.0,502.5 107.0,503.0 108.0,502.5 109.0,501.9 110.0,502.0 111.0,501.5 112.0,501.5 113.0,501.8 114.0,502.3 115.0,502.5 116.0,501.8 117.0,501.9 118.0,502.2 119.0,501.5 120.0,501.4 121.0,501.5 122.0,501.3 123.0,501.1 124.0,500.3 125.0,499.6 126.0,499.7 127.0,499.2 128.0,498.9 129.0,499.3 130.0,500.1 131.0,500.4 132.0,500.8 133.0,501.1 134.0,501.0 135.0,501.2 136.0,501.7 137.0,502.6 138.0,502.4 139.0,502.5 140.0,502.4 141.0,502.1 142.0,502.3 143.0,502.0 144.0,502.1 145.0,502.9 146.0,502.5 147.0,502.3 148.0,502.5 149.0,502.7 150.0,502.9 151.0,502.6 152.0,502.7 153.0,502.6 154.0,502.0 155.0,502.3 156.0,502.3 157.0,502.1 158.0,502.6 159.0,502.3 160.0,502.2 161.0,502.7 162.0,502.7 163.0,502.2 164.0,501.4 165.0,501.4 166.0,502.0 167.0,502.1 168.0,502.0 169.0,502.3 170.0,502.4 171.0,502.2 172.0,502.6 173.0,502.4 174.0,502.1 175.0,502.9 176.0,503.2 177.0,502.3 178.0,502.1 179.0,502.6 180.0,502.9 181.0,502.8 182.0,502.4 183.0,502.1 184.0,502.4 185.0,502.7 186.0,502.4 187.0,502.3 188.0,502.3 189.0,502.6 190.0,502.5 191.0,502.4 192.0,502.8 193.0,502.8 194.0,502.4 195.0,502.6 196.0,502.7 197.0,502.4 198.0,502.4 199.0,501.9 200.0,502.1 201.0,502.6 202.0,502.5 203.0,502.5 204.0,502.4 205.0,502.1 206.0,502.2 207.0,502.9 208.0,503.1 209.0,502.5 210.0,502.4 211.0,502.4 212.0,502.2 213.0,502.5 214.0,502.5 215.0,501.8 216.0,501.7 217.0,502.1 218.0,502.4 219.0,502.6 220.0,502.4 221.0,502.2 222.0,502.5 223.0,502.2 224.0,502.2 225.0,502.3 226.0,501.9 227.0,501.9 228.0,501.7 229.0,501.4 230.0,501.6 231.0,501.5 232.0,501.1 233.0,500.8 234.0,500.7 235.0,500.7 236.0,500.1 237.0,499.4 238.0,498.9 239.0,497.8 240.0,497.5 241.0,496.3 242.0,493.2 243.0,490.2 244.0,484.6 245.0,474.2 246.0,457.4 247.0,431.5 248.0,403.2 249.0,393.8 250.0,413.7 251.0,442.0 252.0,464.1 253.0,478.5 254.0,487.1 255.0,491.8 256.0,494.7 257.0,496.4 258.0,496.9 259.0,497.5 260.0,497.7 261.0,497.8 262.0,498.2 263.0,498.4 264.0,498.6 265.0,498.0 266.0,496.9 267.0,495.4 268.0,493.4 269.0,490.0 270.0,483.7 271.0,473.3 272.0,460.2 273.0,448.4 274.0,446.5 275.0,457.1 276.0,471.0 277.0,482.2 278.0,489.6 279.0,494.1 280.0,496.9 281.0,498.8 282.0,499.9 283.0,500.3 284.0,500.7 285.0,501.1 286.0,501.2 287.0,502.0 288.0,502.3 289.0,502.5 290.0,502.7 291.0,502.4 292.0,502.9 293.0,502.9 294.0,502.8 295.0,502.8 296.0,502.7 297.0,502.8 298.0,502.8 299.0,503.3 300.0,503.4 301.0,503.5 302.0,502.9 303.0,502.5 304.0,503.3 305.0,503.3 306.0,503.5 307.0,503.7 308.0,503.4 309.0,503.4 310.0,504.1 311.0,504.1 312.0,503.5 313.0,503.3 314.0,503.3 315.0,503.1 316.0,503.0 317.0,504.0 318.0,504.3 319.0,503.9 320.0,503.9 321.0,504.2 322.0,504.1 323.0,504.1 324.0,504.3 325.0,503.8 326.0,504.0 327.0,503.3 328.0,502.8 329.0,503.4 330.0,503.3 331.0,503.2 332.0,503.3 333.0,503.2 334.0,504.0 335.0,504.3 336.0,503.6 337.0,503.8 338.0,503.8 339.0,503.7 340.0,503.8 341.0,504.0 342.0,503.5 343.0,503.3 344.0,503.7 345.0,503.2 346.0,503.4 347.0,503.5 348.0,503.6 349.0,503.9 350.0,503.7 351.0,503.6 352.0,503.6 353.0,503.1 354.0,502.8 355.0,503.1 356.0,503.1 357.0,503.1 358.0,503.0 359.0,502.6 360.0,502.4 361.0,502.5 362.0,501.0 363.0,499.4 364.0,499.2 365.0,500.2 366.0,501.6 367.0,501.9 368.0,501.8 369.0,502.2 370.0,502.3 371.0,502.3 372.0,502.7 373.0,502.9 374.0,503.2 375.0,503.7 376.0,503.1 377.0,502.6 378.0,502.7 379.0,503.3 380.0,503.2 381.0,502.5 382.0,502.7 383.0,503.1 384.0,502.9 385.0,503.2 386.0,503.3 387.0,503.0 388.0,502.6 389.0,502.4 390.0,502.5 391.0,501.8 392.0,501.7 393.0,501.6 394.0,501.2 395.0,500.9 396.0,500.8 397.0,500.4 398.0,498.9 399.0,497.6 400.0,495.5 401.0,493.7 402.0,493.7 403.0,494.7 404.0,494.5 405.0,493.2 406.0,490.4 407.0,484.5 408.0,476.1 409.0,466.0 410.0,454.5 411.0,448.3 412.0,453.8 413.0,465.6 414.0,477.0 415.0,485.5 416.0,491.2 417.0,494.6 418.0,497.1 419.0,499.5 420.0,500.7 421.0,500.6 422.0,500.9 423.0,501.0 424.0,501.4 425.0,502.4 426.0,502.3 427.0,502.6 428.0,503.0 429.0,503.3 430.0,503.5 431.0,503.4 432.0,503.0 433.0,502.7 434.0,503.1 435.0,503.6 436.0,503.7 437.0,504.1 438.0,503.9 439.0,503.5 440.0,503.8 441.0,503.9 442.0,504.0 443.0,503.9 444.0,504.2 445.0,504.2 446.0,504.2 447.0,504.3 448.0,504.4 449.0,504.0 450.0,503.8 451.0,504.0 452.0,504.0 453.0,504.3 454.0,504.0 455.0,503.3 456.0,503.4 457.0,503.7 458.0,503.5 459.0,503.4 460.0,503.5 461.0,503.1 462.0,503.3 463.0,503.6 464.0,503.4 465.0,503.1 466.0,503.1 467.0,502.9 468.0,502.1 469.0,501.8 470.0,502.1 471.0,502.1 472.0,502.0 473.0,501.1 474.0,499.6 475.0,497.6 476.0,495.5 477.0,493.1 478.0,489.6 479.0,484.6 480.0,479.3 481.0,475.2 482.0,473.3 483.0,474.2 484.0,477.4 485.0,482.1 486.0,487.0 487.0,491.1 488.0,494.6 489.0,497.4 490.0,499.1 491.0,500.4 492.0,500.9 493.0,501.3 494.0,501.7 495.0,502.0 496.0,502.6 497.0,502.7 498.0,502.1 499.0,502.0 500.0,502.3 501.0,501.9 502.0,501.7 503.0,502.0 504.0,502.1 505.0,501.0 506.0,499.6 507.0,498.2 508.0,495.5 509.0,493.0 510.0,492.3 511.0,493.1 512.0,494.5 513.0,496.2 514.0,498.2 515.0,499.3 516.0,499.5 517.0,498.5 518.0,497.1 519.0,494.5 520.0,488.7 521.0,480.8 522.0,470.6 523.0,461.9 524.0,462.9 525.0,472.3 526.0,482.1 527.0,488.6 528.0,492.6 529.0,494.3 530.0,493.9 531.0,492.8 532.0,490.2 533.0,486.0 534.0,481.4 535.0,477.1 536.0,474.8 537.0,475.2 538.0,475.1 539.0,474.6 540.0,475.9 541.0,479.3 542.0,485.0 543.0,490.2 544.0,493.6 545.0,496.3 546.0,498.3 547.0,499.5 548.0,500.4 549.0,501.1 550.0,501.9 551.0,502.6 552.0,503.0 553.0,503.0 554.0,502.7 555.0,502.9 556.0,503.2 557.0,503.5 558.0,504.0 559.0,504.0 560.0,503.9 561.0,503.3 562.0,503.7 563.0,504.5 564.0,503.9 565.0,503.7 566.0,504.3 567.0,504.1 568.0,504.2 569.0,504.4 570.0,503.7 571.0,504.2 572.0,504.5 573.0,504.0 574.0,504.1 575.0,503.8 576.0,504.0 577.0,504.3 578.0,503.9 579.0,504.0 580.0,504.0 581.0,504.3 582.0,503.9 583.0,503.9 584.0,503.9 585.0,503.5 586.0,503.4 587.0,503.2 588.0,503.0 589.0,503.3 590.0,503.2 591.0,503.0 592.0,502.8 593.0,501.8 594.0,500.6 595.0,499.9 596.0,499.6 597.0,498.8 598.0,497.6 599.0,496.9 600.0,495.9 601.0,495.1 602.0,495.8 603.0,497.4 604.0,498.4 605.0,498.6 606.0,499.6 607.0,500.9 608.0,501.7 609.0,502.0 610.0,502.1 611.0,502.6 612.0,503.2 613.0,503.7 614.0,504.3 615.0,503.9 616.0,503.3 617.0,503.6 618.0,503.7 619.0,503.9 620.0,504.1 621.0,504.0 622.0,504.3 623.0,504.2 624.0,503.6 625.0,503.2 626.0,503.2 627.0,503.2 628.0,502.9 629.0,503.3 630.0,503.7 631.0,503.2 632.0,502.8 633.0,502.2 634.0,501.7 635.0,501.9 636.0,500.5 637.0,498.6 638.0,497.1 639.0,494.2 640.0,490.4 641.0,487.3 642.0,485.8 643.0,487.1 644.0,491.0 645.0,494.1 646.0,496.5 647.0,499.1 648.0,501.1 649.0,502.4 650.0,503.0 651.0,503.0 652.0,502.9 653.0,503.4 654.0,504.0 655.0,503.8 656.0,503.8 657.0,504.3 658.0,504.6 659.0,504.3 660.0,504.3 661.0,504.3 662.0,504.1 663.0,504.4 664.0,504.9 665.0,505.8 666.0,505.5 667.0,504.8 668.0,505.0 669.0,504.5 670.0,504.5 671.0,504.5 672.0,504.7 673.0,505.4 674.0,505.1 675.0,504.5 676.0,504.8 677.0,505.1 678.0,504.6 679.0,504.7 680.0,504.2 681.0,504.1 682.0,504.8 683.0,504.7 684.0,504.4 685.0,504.0 686.0,504.1 687.0,504.3 688.0,504.0 689.0,503.7 690.0,503.8 691.0,504.1 692.0,503.8 693.0,503.5 694.0,503.5 695.0,503.3 696.0,502.7 697.0,501.8 698.0,501.1 699.0,500.5 700.0,499.9 701.0,499.0 702.0,497.2 703.0,494.7 704.0,491.5 705.0,487.4 706.0,481.8 707.0,474.0 708.0,464.9 709.0,455.1 710.0,447.1 711.0,444.4 712.0,447.8 713.0,455.4 714.0,464.7 715.0,473.6 716.0,481.5 717.0,487.9 718.0,491.7 719.0,494.2 720.0,496.7 721.0,498.4 722.0,499.1 723.0,500.2 724.0,501.4 725.0,501.6 726.0,501.9 727.0,502.9 728.0,503.4 729.0,503.3 730.0,503.9 731.0,504.3 732.0,503.7 733.0,503.9 734.0,504.0 735.0,504.0 736.0,504.1 737.0,504.2 738.0,504.4 739.0,504.5 740.0,504.9 741.0,504.8 742.0,504.6 743.0,504.8 744.0,504.4 745.0,504.2 746.0,504.7 747.0,504.8 748.0,504.8 749.0,505.6 750.0,505.3 751.0,504.6 752.0,504.5 753.0,504.6 754.0,503.9 755.0,503.8 756.0,503.9 757.0,502.6 758.0,502.2 759.0,502.4 760.0,502.1 761.0,501.5 762.0,500.6 763.0,499.3 764.0,497.2 765.0,494.2 766.0,491.2 767.0,488.1 768.0,483.5 769.0,478.5 770.0,475.1 771.0,475.1 772.0,477.2 773.0,480.4 774.0,484.7 775.0,489.3 776.0,492.9 777.0,495.3 778.0,497.3 779.0,499.1 780.0,500.9 781.0,501.7 782.0,502.3 783.0,502.9 784.0,503.0 785.0,503.3 786.0,503.5 787.0,503.9 788.0,504.1 789.0,503.8 790.0,503.8 791.0,504.0 792.0,504.1 793.0,504.2 794.0,504.2 795.0,503.8 796.0,503.8 797.0,504.4 798.0,503.9 799.0,503.9 800.0,504.2 801.0,503.6 802.0,502.9 803.0,502.9 804.0,502.7 805.0,501.8 806.0,501.4 807.0,500.1 808.0,498.2 809.0,496.0 810.0,493.6 811.0,490.8 812.0,487.7 813.0,485.2 814.0,484.3 815.0,485.8 816.0,488.7 817.0,492.4 818.0,495.7 819.0,497.2 820.0,498.7 821.0,501.0 822.0,501.9 823.0,502.1 824.0,503.1 825.0,503.3 826.0,503.7 827.0,504.6 828.0,504.3 829.0,504.3 830.0,504.4 831.0,503.9 832.0,504.3 833.0,504.6 834.0,504.5 835.0,504.6 836.0,504.4 837.0,504.0 838.0,504.1 839.0,504.5 840.0,505.0 841.0,504.9 842.0,504.4 843.0,504.2 844.0,504.6 845.0,504.1 846.0,503.7 847.0,504.2 848.0,504.5 849.0,504.3 850.0,504.1 851.0,503.9 852.0,503.6 853.0,503.2 854.0,502.6 855.0,502.2 856.0,501.7 857.0,501.5 858.0,500.4 859.0,498.2 860.0,495.9 861.0,493.1 862.0,489.7 863.0,486.4 864.0,483.6 865.0,482.7 866.0,483.7 867.0,486.4 868.0,490.0 869.0,492.5 870.0,494.5 871.0,496.3 872.0,496.8 873.0,496.5 874.0,495.3 875.0,494.4 876.0,492.8 877.0,490.6 878.0,490.1 879.0,490.4 880.0,492.2 881.0,495.0 882.0,497.2 883.0,498.9 884.0,500.0 885.0,500.7 886.0,502.2 887.0,503.1 888.0,503.1 889.0,503.9 890.0,504.2 891.0,503.9 892.0,504.2 893.0,504.3 894.0,504.2 895.0,504.2 896.0,504.9 897.0,505.3 898.0,504.3 899.0,503.6 900.0,504.5 901.0,505.0 902.0,504.9 903.0,505.2 904.0,504.9 905.0,504.9 906.0,505.4 907.0,505.3 908.0,505.3 909.0,505.4 910.0,505.3 911.0,505.0 912.0,505.3 913.0,505.4 914.0,504.9 915.0,505.2 916.0,505.9 917.0,505.9 918.0,505.6 919.0,505.3 920.0,505.2 921.0,504.9 922.0,505.0 923.0,505.3 924.0,505.1 925.0,505.5 926.0,505.3 927.0,504.6 928.0,504.8 929.0,505.3 930.0,505.4 931.0,505.0 932.0,504.8 933.0,504.7 934.0,504.6 935.0,505.0 936.0,505.5 937.0,505.4 938.0,505.1 939.0,505.4 940.0,505.2 941.0,504.0 942.0,504.1 943.0,504.5 944.0,504.6 945.0,504.1 946.0,503.8 947.0,504.1 948.0,503.4 949.0,502.5 950.0,502.0 951.0,502.0 952.0,502.5 953.0,502.8 954.0,503.0 955.0,503.4 956.0,503.6 957.0,503.8 958.0,503.9 959.0,503.7 960.0,504.2 961.0,504.4 962.0,504.6 963.0,505.2 964.0,505.3 965.0,504.8 966.0,504.6 967.0,505.2 968.0,505.2 969.0,504.9 970.0,505.0 971.0,505.1 972.0,505.4 973.0,505.3 974.0,504.7 975.0,505.2 976.0,505.6 977.0,505.4 978.0,505.4 979.0,505.4 980.0,505.7 981.0,505.9 982.0,505.5 983.0,505.0 984.0,505.2 985.0,505.4 986.0,505.4 987.0,505.2 988.0,504.5 989.0,504.7 990.0,505.5 991.0,505.6 992.0,505.8 993.0,505.8 994.0,505.3 995.0,505.4 996.0,505.4 997.0,505.5 998.0,505.6 999.0,505.4 1000.0,505.3 1001.0,505.2 1002.0,504.8 1003.0,504.8 1004.0,504.6 1005.0,504.7 1006.0,505.5 1007.0,505.8 1008.0,505.6 1009.0,504.9 1010.0,504.4 1011.0,505.0 1012.0,504.9 1013.0,504.6 1014.0,504.2 1015.0,503.8 1016.0,504.4 1017.0,504.2 1018.0,503.7 1019.0,503.1 1020.0,502.5 1021.0,502.5 1022.0,502.5 1023.0,502.0 1024.0,501.8 1025.0,501.7 1026.0,502.2 1027.0,503.1 1028.0,503.1 1029.0,503.2 1030.0,504.0 1031.0,504.1 1032.0,504.6 1033.0,505.4 1034.0,505.0 1035.0,505.0 1036.0,505.5 1037.0,505.1 1038.0,504.9 1039.0,505.2 1040.0,505.0 1041.0,505.3 1042.0,505.3 1043.0,504.8 1044.0,504.6 1045.0,504.9 1046.0,505.4 1047.0,505.5 1048.0,505.3 1049.0,505.3 1050.0,505.7 1051.0,505.8 1052.0,505.3 1053.0,505.1 1054.0,505.6 1055.0,505.5 1056.0,505.2 1057.0,505.3 1058.0,505.1 1059.0,505.4 1060.0,505.1 1061.0,505.2 1062.0,505.7 1063.0,505.0 1064.0,505.1 1065.0,505.0 1066.0,505.1 1067.0,505.7 1068.0,505.4 1069.0,505.1 1070.0,505.4 1071.0,505.3 1072.0,505.0 1073.0,505.2 1074.0,505.5 1075.0,505.2 1076.0,504.7 1077.0,504.9 1078.0,504.0 1079.0,503.4 1080.0,503.3 1081.0,502.6 1082.0,503.2 1083.0,503.4 1084.0,503.0 1085.0,502.8 1086.0,502.7 1087.0,502.9 1088.0,502.9 1089.0,503.3 1090.0,503.8 1091.0,504.6 1092.0,504.7 1093.0,504.7 1094.0,504.8 1095.0,504.9 1096.0,504.7 1097.0,505.1 1098.0,505.3 1099.0,505.1 1100.0,505.2 1101.0,505.5 1102.0,505.7 1103.0,505.4 1104.0,505.3 1105.0,505.4 1106.0,505.5 1107.0,505.5 1108.0,505.6 1109.0,505.8 1110.0,505.5 1111.0,504.7 1112.0,504.8 1113.0,505.4 1114.0,504.7 1115.0,503.7 1116.0,503.0 1117.0,502.9 1118.0,502.9 1119.0,502.9 1120.0,502.5 1121.0,502.2 1122.0,503.2 1123.0,503.4 1124.0,503.4 1125.0,503.9 1126.0,504.2 1127.0,504.3 1128.0,504.7 1129.0,504.8 1130.0,504.9 1131.0,505.4 1132.0,505.4 1133.0,505.3 1134.0,505.3 1135.0,505.5 1136.0,505.4 1137.0,505.5 1138.0,505.1 1139.0,504.6 1140.0,505.0 1141.0,505.5 1142.0,506.0 1143.0,505.4 1144.0,505.2 1145.0,505.9 1146.0,506.0 1147.0,505.8 1148.0,505.5 1149.0,505.0 1150.0,505.5 1151.0,506.5 1152.0,506.2 1153.0,505.8 1154.0,505.7 1155.0,505.8 1156.0,505.9 1157.0,505.5 1158.0,505.2 1159.0,505.2 1160.0,505.7 1161.0,506.1 1162.0,505.8 1163.0,505.7 1164.0,505.9 1165.0,505.5 1166.0,505.4 1167.0,505.0 1168.0,504.9 1169.0,505.7 1170.0,505.7 1171.0,505.1 1172.0,505.6 1173.0,505.1 1174.0,504.8 1175.0,505.1 1176.0,504.9 1177.0,505.0 1178.0,504.7 1179.0,504.1 1180.0,504.0 1181.0,503.8 1182.0,503.0 1183.0,502.5 1184.0,502.0 1185.0,502.3 1186.0,502.5 1187.0,502.4 1188.0,503.6 1189.0,504.1 1190.0,504.0 1191.0,504.0 1192.0,504.2 1193.0,504.9 1194.0,505.3 1195.0,505.3 1196.0,506.0 1197.0,505.9 1198.0,505.2 1199.0,505.4 1200.0,505.6 1201.0,505.8 1202.0,505.7 1203.0,505.8 1204.0,506.1 1205.0,505.8 1206.0,505.1 1207.0,505.4 1208.0,505.8 1209.0,505.4 1210.0,505.6 1211.0,505.5 1212.0,505.3 1213.0,505.7 1214.0,505.8 1215.0,505.8 1216.0,505.7 1217.0,505.6 1218.0,505.5 1219.0,505.5 1220.0,505.9 1221.0,505.9 1222.0,505.4 1223.0,505.4 1224.0,505.8 1225.0,506.2 1226.0,506.1 1227.0,505.7 1228.0,505.4 1229.0,506.0 1230.0,506.1 1231.0,505.3 1232.0,505.5 1233.0,505.3 1234.0,505.6 1235.0,506.0 1236.0,505.9 1237.0,505.5 1238.0,505.2 1239.0,505.6 1240.0,505.9 1241.0,506.3 1242.0,506.2 1243.0,504.8 1244.0,504.3 1245.0,504.5 1246.0,504.4 1247.0,504.1 1248.0,503.6 1249.0,503.3 1250.0,503.1 1251.0,503.4 1252.0,503.2 1253.0,502.6 1254.0,502.8 1255.0,504.0 1256.0,504.7 1257.0,504.5 1258.0,504.5 1259.0,505.1 1260.0,505.6 1261.0,505.4 1262.0,505.3 1263.0,505.4"/>
<polyline fill="none" stroke="#1414b2" stroke-width="2.7" stroke-linejoin="round" points="92.0,615.5 93.0,615.5 94.0,615.4 95.0,615.5 96.0,615.1 97.0,615.1 98.0,615.3 99.0,615.6 100.0,615.9 101.0,615.5 102.0,615.1 103.0,615.1 104.0,615.4 105.0,615.0 106.0,615.5 107.0,615.9 108.0,615.8 109.0,615.4 110.0,615.4 111.0,615.3 112.0,614.7 113.0,615.2 114.0,615.3 115.0,614.6 116.0,614.2 117.0,615.0 118.0,615.7 119.0,615.6 120.0,614.8 121.0,614.5 122.0,613.8 123.0,613.2 124.0,612.6 125.0,612.0 126.0,612.4 127.0,613.0 128.0,613.6 129.0,614.2 130.0,614.6 131.0,614.8 132.0,615.2 133.0,614.7 134.0,614.6 135.0,615.1 136.0,614.9 137.0,615.0 138.0,614.8 139.0,614.9 140.0,615.5 141.0,615.4 142.0,615.9 143.0,615.9 144.0,615.3 145.0,615.1 146.0,615.1 147.0,615.1 148.0,615.4 149.0,615.4 150.0,615.2 151.0,615.8 152.0,616.1 153.0,615.7 154.0,615.7 155.0,615.7 156.0,615.5 157.0,615.5 158.0,615.1 159.0,615.2 160.0,615.7 161.0,615.5 162.0,615.0 163.0,615.0 164.0,614.7 165.0,614.7 166.0,615.0 167.0,615.7 168.0,615.8 169.0,614.9 170.0,615.3 171.0,615.6 172.0,615.4 173.0,615.5 174.0,615.6 175.0,615.5 176.0,615.7 177.0,615.9 178.0,615.5 179.0,615.4 180.0,615.3 181.0,615.4 182.0,615.8 183.0,615.9 184.0,615.9 185.0,615.7 186.0,616.0 187.0,615.9 188.0,615.6 189.0,615.5 190.0,615.6 191.0,615.6 192.0,616.1 193.0,616.2 194.0,615.3 195.0,615.1 196.0,615.2 197.0,615.5 198.0,616.2 199.0,615.9 200.0,615.7 201.0,615.7 202.0,615.7 203.0,616.2 204.0,616.0 205.0,615.2 206.0,615.5 207.0,615.9 208.0,615.9 209.0,616.0 210.0,615.7 211.0,614.9 212.0,615.3 213.0,615.7 214.0,615.1 215.0,614.9 216.0,615.5 217.0,615.8 218.0,615.6 219.0,615.7 220.0,615.4 221.0,614.9 222.0,614.8 223.0,614.7 224.0,614.8 225.0,614.8 226.0,614.8 227.0,614.8 228.0,614.7 229.0,614.9 230.0,615.1 231.0,615.1 232.0,614.6 233.0,614.0 234.0,613.6 235.0,613.4 236.0,613.4 237.0,612.4 238.0,611.4 239.0,610.4 240.0,608.7 241.0,606.6 242.0,602.8 243.0,596.3 244.0,584.5 245.0,565.5 246.0,541.3 247.0,522.3 248.0,527.8 249.0,551.2 250.0,573.8 251.0,589.4 252.0,598.5 253.0,604.2 254.0,607.7 255.0,609.6 256.0,610.6 257.0,611.1 258.0,611.7 259.0,611.9 260.0,611.4 261.0,610.9 262.0,610.7 263.0,610.5 264.0,608.9 265.0,606.2 266.0,602.0 267.0,595.1 268.0,585.1 269.0,573.8 270.0,568.8 271.0,574.3 272.0,584.9 273.0,595.6 274.0,603.2 275.0,607.4 276.0,609.7 277.0,611.3 278.0,612.4 279.0,613.3 280.0,613.7 281.0,613.7 282.0,614.0 283.0,614.5 284.0,615.1 285.0,615.7 286.0,615.4 287.0,614.8 288.0,614.6 289.0,615.6 290.0,615.9 291.0,615.6 292.0,616.2 293.0,616.0 294.0,615.5 295.0,615.6 296.0,615.4 297.0,615.8 298.0,616.4 299.0,615.7 300.0,615.7 301.0,616.2 302.0,616.0 303.0,616.1 304.0,615.8 305.0,615.7 306.0,615.8 307.0,616.4 308.0,617.2 309.0,616.7 310.0,615.9 311.0,616.2 312.0,616.5 313.0,616.6 314.0,617.2 315.0,617.2 316.0,616.6 317.0,615.9 318.0,615.9 319.0,616.1 320.0,616.1 321.0,616.4 322.0,616.8 323.0,616.5 324.0,616.3 325.0,616.4 326.0,616.9 327.0,616.3 328.0,616.0 329.0,616.4 330.0,616.2 331.0,616.2 332.0,616.4 333.0,616.9 334.0,616.9 335.0,616.4 336.0,616.0 337.0,616.4 338.0,616.5 339.0,616.3 340.0,616.6 341.0,616.7 342.0,616.4 343.0,616.3 344.0,616.7 345.0,616.7 346.0,616.5 347.0,616.6 348.0,616.5 349.0,616.4 350.0,616.4 351.0,616.6 352.0,616.8 353.0,616.0 354.0,615.8 355.0,616.4 356.0,616.3 357.0,615.7 358.0,615.7 359.0,614.9 360.0,613.9 361.0,613.5 362.0,613.5 363.0,613.6 364.0,613.9 365.0,615.3 366.0,615.9 367.0,615.8 368.0,616.7 369.0,616.7 370.0,615.6 371.0,616.5 372.0,617.3 373.0,616.7 374.0,617.2 375.0,617.1 376.0,616.7 377.0,616.8 378.0,616.3 379.0,616.5 380.0,616.7 381.0,616.9 382.0,617.0 383.0,616.5 384.0,616.1 385.0,616.7 386.0,616.8 387.0,616.3 388.0,616.5 389.0,616.7 390.0,616.7 391.0,616.1 392.0,615.6 393.0,615.8 394.0,616.0 395.0,615.3 396.0,614.7 397.0,614.6 398.0,614.5 399.0,613.7 400.0,613.4 401.0,612.7 402.0,610.9 403.0,609.8 404.0,607.0 405.0,602.3 406.0,595.4 407.0,586.6 408.0,577.3 409.0,573.0 410.0,577.6 411.0,586.5 412.0,595.7 413.0,602.9 414.0,606.8 415.0,609.8 416.0,611.9 417.0,613.0 418.0,613.8 419.0,614.2 420.0,614.9 421.0,615.8 422.0,615.6 423.0,615.3 424.0,615.8 425.0,616.3 426.0,616.4 427.0,616.4 428.0,616.9 429.0,617.0 430.0,616.7 431.0,616.4 432.0,616.5 433.0,616.7 434.0,616.6 435.0,616.6 436.0,617.0 437.0,616.9 438.0,616.7 439.0,616.9 440.0,617.2 441.0,616.8 442.0,616.4 443.0,617.0 444.0,617.3 445.0,616.7 446.0,616.7 447.0,617.4 448.0,617.2 449.0,616.6 450.0,616.6 451.0,617.3 452.0,617.1 453.0,616.8 454.0,617.2 455.0,617.2 456.0,616.8 457.0,616.8 458.0,616.9 459.0,616.8 460.0,616.8 461.0,616.5 462.0,615.9 463.0,615.9 464.0,616.1 465.0,615.2 466.0,615.0 467.0,615.3 468.0,614.9 469.0,613.7 470.0,612.9 471.0,612.3 472.0,611.0 473.0,608.8 474.0,606.3 475.0,603.7 476.0,599.7 477.0,595.2 478.0,591.3 479.0,589.8 480.0,591.1 481.0,594.2 482.0,598.5 483.0,602.9 484.0,606.5 485.0,609.2 486.0,610.7 487.0,611.9 488.0,613.1 489.0,614.0 490.0,614.7 491.0,614.5 492.0,614.3 493.0,614.7 494.0,615.2 495.0,615.8 496.0,615.6 497.0,615.6 498.0,615.2 499.0,615.0 500.0,614.7 501.0,614.0 502.0,613.0 503.0,611.8 504.0,610.3 505.0,607.9 506.0,606.3 507.0,607.1 508.0,608.9 509.0,610.1 510.0,611.0 511.0,612.1 512.0,613.1 513.0,612.8 514.0,611.6 515.0,610.3 516.0,607.6 517.0,602.9 518.0,595.8 519.0,587.1 520.0,582.1 521.0,585.7 522.0,594.0 523.0,601.6 524.0,606.3 525.0,609.1 526.0,610.9 527.0,611.6 528.0,611.6 529.0,611.0 530.0,609.0 531.0,605.8 532.0,602.1 533.0,597.1 534.0,592.7 535.0,591.5 536.0,594.5 537.0,600.2 538.0,605.1 539.0,608.7 540.0,611.2 541.0,612.6 542.0,613.8 543.0,614.6 544.0,615.7 545.0,616.5 546.0,616.5 547.0,616.4 548.0,616.4 549.0,616.5 550.0,617.0 551.0,616.6 552.0,616.3 553.0,616.6 554.0,617.0 555.0,617.0 556.0,617.0 557.0,617.0 558.0,616.6 559.0,617.3 560.0,617.9 561.0,617.3 562.0,616.7 563.0,616.7 564.0,617.3 565.0,617.5 566.0,617.2 567.0,617.3 568.0,617.9 569.0,617.5 570.0,617.2 571.0,617.3 572.0,617.6 573.0,617.8 574.0,617.4 575.0,616.9 576.0,617.2 577.0,617.6 578.0,617.4 579.0,617.4 580.0,617.4 581.0,617.0 582.0,616.7 583.0,617.1 584.0,617.7 585.0,617.6 586.0,617.0 587.0,616.6 588.0,616.2 589.0,616.0 590.0,615.6 591.0,615.1 592.0,614.7 593.0,614.5 594.0,613.6 595.0,612.6 596.0,611.7 597.0,611.1 598.0,611.5 599.0,611.4 600.0,611.1 601.0,612.3 602.0,613.4 603.0,613.9 604.0,614.7 605.0,615.5 606.0,616.2 607.0,616.6 608.0,616.4 609.0,616.3 610.0,616.2 611.0,616.3 612.0,617.1 613.0,617.1 614.0,616.9 615.0,617.6 616.0,617.7 617.0,617.8 618.0,617.8 619.0,617.8 620.0,617.5 621.0,616.9 622.0,617.4 623.0,617.7 624.0,617.1 625.0,616.8 626.0,617.1 627.0,617.2 628.0,616.7 629.0,616.1 630.0,615.5 631.0,614.9 632.0,613.9 633.0,612.6 634.0,610.4 635.0,607.4 636.0,604.7 637.0,602.2 638.0,601.9 639.0,604.3 640.0,606.5 641.0,609.4 642.0,611.9 643.0,613.5 644.0,614.7 645.0,615.4 646.0,615.8 647.0,616.1 648.0,616.6 649.0,617.0 650.0,617.3 651.0,616.8 652.0,616.8 653.0,616.9 654.0,616.9 655.0,617.5 656.0,617.9 657.0,617.6 658.0,617.0 659.0,617.0 660.0,617.7 661.0,617.7 662.0,616.8 663.0,616.5 664.0,616.6 665.0,617.2 666.0,617.4 667.0,616.9 668.0,617.1 669.0,617.5 670.0,617.4 671.0,616.9 672.0,617.0 673.0,617.3 674.0,616.9 675.0,616.3 676.0,617.2 677.0,617.6 678.0,617.1 679.0,616.6 680.0,616.3 681.0,616.5 682.0,617.0 683.0,617.0 684.0,616.2 685.0,616.5 686.0,617.1 687.0,616.9 688.0,616.0 689.0,615.5 690.0,615.5 691.0,615.5 692.0,615.7 693.0,615.0 694.0,613.9 695.0,613.8 696.0,613.1 697.0,612.1 698.0,610.7 699.0,609.1 700.0,607.0 701.0,603.7 702.0,599.4 703.0,593.3 704.0,585.8 705.0,577.9 706.0,570.7 707.0,567.1 708.0,568.4 709.0,574.2 710.0,582.7 711.0,590.7 712.0,597.3 713.0,602.0 714.0,605.5 715.0,608.6 716.0,610.7 717.0,612.1 718.0,613.5 719.0,614.2 720.0,614.4 721.0,615.1 722.0,615.7 723.0,615.9 724.0,616.5 725.0,616.8 726.0,616.6 727.0,616.4 728.0,616.9 729.0,617.1 730.0,617.0 731.0,617.2 732.0,617.7 733.0,618.1 734.0,617.2 735.0,617.1 736.0,617.3 737.0,617.1 738.0,617.7 739.0,617.5 740.0,617.4 741.0,617.7 742.0,617.9 743.0,617.6 744.0,617.6 745.0,617.7 746.0,617.8 747.0,617.8 748.0,617.7 749.0,617.9 750.0,617.9 751.0,617.5 752.0,617.2 753.0,617.1 754.0,616.7 755.0,616.8 756.0,616.1 757.0,614.9 758.0,614.4 759.0,613.6 760.0,612.3 761.0,610.8 762.0,608.2 763.0,604.9 764.0,601.1 765.0,597.3 766.0,594.4 767.0,593.5 768.0,594.5 769.0,597.6 770.0,601.6 771.0,604.5 772.0,606.7 773.0,609.7 774.0,612.0 775.0,612.4 776.0,613.3 777.0,614.8 778.0,616.1 779.0,616.7 780.0,617.0 781.0,617.4 782.0,617.7 783.0,617.2 784.0,616.8 785.0,616.9 786.0,617.1 787.0,617.2 788.0,617.3 789.0,617.8 790.0,617.6 791.0,617.3 792.0,617.2 793.0,616.7 794.0,617.1 795.0,617.3 796.0,617.0 797.0,617.2 798.0,616.7 799.0,616.1 800.0,616.4 801.0,615.7 802.0,614.6 803.0,614.1 804.0,612.9 805.0,611.0 806.0,608.7 807.0,606.0 808.0,603.4 809.0,601.8 810.0,601.3 811.0,602.9 812.0,605.7 813.0,608.6 814.0,611.0 815.0,612.7 816.0,614.1 817.0,615.1 818.0,615.6 819.0,616.1 820.0,616.4 821.0,616.5 822.0,616.6 823.0,617.4 824.0,617.9 825.0,617.2 826.0,617.1 827.0,617.5 828.0,617.5 829.0,617.6 830.0,617.9 831.0,618.0 832.0,617.2 833.0,617.1 834.0,617.9 835.0,617.9 836.0,617.7 837.0,617.3 838.0,617.1 839.0,617.4 840.0,617.7 841.0,617.1 842.0,616.8 843.0,617.2 844.0,617.0 845.0,616.8 846.0,617.0 847.0,616.8 848.0,616.3 849.0,616.6 850.0,616.9 851.0,616.4 852.0,615.9 853.0,615.4 854.0,614.9 855.0,614.0 856.0,613.2 857.0,611.9 858.0,609.7 859.0,606.8 860.0,604.2 861.0,600.8 862.0,597.8 863.0,596.9 864.0,597.9 865.0,600.3 866.0,602.8 867.0,605.5 868.0,607.4 869.0,608.2 870.0,608.9 871.0,608.9 872.0,607.6 873.0,606.7 874.0,605.9 875.0,605.6 876.0,606.7 877.0,608.1 878.0,609.6 879.0,611.0 880.0,612.9 881.0,614.8 882.0,615.4 883.0,615.7 884.0,615.9 885.0,616.0 886.0,616.4 887.0,617.2 888.0,617.3 889.0,617.3 890.0,617.6 891.0,617.5 892.0,617.2 893.0,617.2 894.0,617.2 895.0,617.5 896.0,618.0 897.0,617.6 898.0,617.3 899.0,617.3 900.0,617.5 901.0,618.0 902.0,617.8 903.0,617.5 904.0,617.9 905.0,617.6 906.0,617.6 907.0,618.4 908.0,618.7 909.0,618.3 910.0,617.9 911.0,618.1 912.0,618.3 913.0,618.5 914.0,618.4 915.0,618.1 916.0,618.1 917.0,618.5 918.0,618.2 919.0,618.1 920.0,618.4 921.0,618.1 922.0,617.9 923.0,617.8 924.0,617.8 925.0,617.1 926.0,617.4 927.0,617.7 928.0,617.7 929.0,617.7 930.0,617.6 931.0,617.8 932.0,617.4 933.0,617.5 934.0,617.8 935.0,617.2 936.0,617.7 937.0,618.4 938.0,618.0 939.0,617.8 940.0,617.9 941.0,617.7 942.0,617.5 943.0,617.8 944.0,617.3 945.0,616.9 946.0,616.8 947.0,616.1 948.0,615.8 949.0,615.8 950.0,615.7 951.0,615.6 952.0,615.0 953.0,615.1 954.0,615.4 955.0,615.1 956.0,615.5 957.0,616.1 958.0,616.8 959.0,617.4 960.0,617.6 961.0,617.8 962.0,617.6 963.0,617.8 964.0,617.6 965.0,617.7 966.0,618.1 967.0,617.5 968.0,617.5 969.0,618.2 970.0,618.1 971.0,618.4 972.0,618.8 973.0,618.4 974.0,617.9 975.0,618.0 976.0,618.1 977.0,618.3 978.0,618.7 979.0,618.7 980.0,618.6 981.0,618.5 982.0,618.3 983.0,618.1 984.0,618.8 985.0,619.2 986.0,618.7 987.0,618.4 988.0,617.9 989.0,617.8 990.0,618.1 991.0,618.2 992.0,618.5 993.0,618.5 994.0,618.5 995.0,618.7 996.0,618.7 997.0,618.6 998.0,618.6 999.0,618.6 1000.0,618.5 1001.0,618.4 1002.0,618.3 1003.0,618.4 1004.0,618.6 1005.0,618.3 1006.0,618.1 1007.0,618.2 1008.0,618.6 1009.0,618.5 1010.0,618.4 1011.0,618.5 1012.0,618.3 1013.0,618.3 1014.0,618.0 1015.0,617.1 1016.0,616.8 1017.0,616.7 1018.0,616.5 1019.0,616.3 1020.0,616.2 1021.0,615.7 1022.0,615.1 1023.0,615.1 1024.0,615.1 1025.0,615.1 1026.0,615.3 1027.0,615.3 1028.0,615.8 1029.0,616.5 1030.0,616.9 1031.0,617.3 1032.0,617.2 1033.0,617.8 1034.0,617.8 1035.0,617.1 1036.0,617.4 1037.0,617.8 1038.0,618.1 1039.0,618.2 1040.0,618.1 1041.0,618.3 1042.0,618.5 1043.0,618.1 1044.0,618.0 1045.0,618.1 1046.0,618.3 1047.0,618.4 1048.0,618.0 1049.0,618.3 1050.0,618.5 1051.0,618.3 1052.0,618.5 1053.0,618.4 1054.0,618.1 1055.0,618.5 1056.0,618.5 1057.0,618.3 1058.0,618.1 1059.0,618.0 1060.0,618.3 1061.0,618.4 1062.0,619.0 1063.0,618.4 1064.0,617.6 1065.0,618.0 1066.0,618.2 1067.0,617.9 1068.0,617.9 1069.0,618.0 1070.0,618.0 1071.0,617.9 1072.0,618.5 1073.0,618.7 1074.0,618.1 1075.0,617.4 1076.0,616.9 1077.0,617.2 1078.0,617.6 1079.0,617.2 1080.0,616.6 1081.0,616.2 1082.0,615.8 1083.0,615.2 1084.0,614.5 1085.0,614.7 1086.0,615.5 1087.0,616.1 1088.0,616.2 1089.0,616.0 1090.0,616.6 1091.0,617.2 1092.0,616.9 1093.0,617.1 1094.0,617.5 1095.0,618.1 1096.0,618.3 1097.0,617.8 1098.0,617.8 1099.0,617.6 1100.0,618.0 1101.0,618.2 1102.0,617.9 1103.0,617.9 1104.0,617.7 1105.0,617.4 1106.0,617.6 1107.0,618.6 1108.0,619.0 1109.0,618.5 1110.0,618.3 1111.0,617.9 1112.0,617.1 1113.0,617.3 1114.0,617.2 1115.0,617.2 1116.0,617.4 1117.0,616.2 1118.0,615.5 1119.0,615.4 1120.0,615.6 1121.0,615.7 1122.0,615.8 1123.0,615.8 1124.0,616.6 1125.0,617.5 1126.0,617.4 1127.0,617.1 1128.0,617.3 1129.0,618.7 1130.0,618.9 1131.0,618.5 1132.0,618.0 1133.0,617.7 1134.0,618.2 1135.0,618.6 1136.0,618.5 1137.0,618.4 1138.0,619.0 1139.0,618.8 1140.0,618.5 1141.0,618.6 1142.0,618.4 1143.0,617.9 1144.0,617.8 1145.0,618.2 1146.0,618.6 1147.0,618.5 1148.0,618.4 1149.0,618.5 1150.0,619.1 1151.0,619.0 1152.0,618.3 1153.0,618.1 1154.0,618.1 1155.0,618.5 1156.0,618.7 1157.0,618.5 1158.0,618.5 1159.0,618.2 1160.0,618.0 1161.0,618.3 1162.0,618.4 1163.0,618.5 1164.0,618.8 1165.0,618.6 1166.0,618.4 1167.0,618.7 1168.0,618.4 1169.0,618.4 1170.0,618.8 1171.0,618.2 1172.0,618.0 1173.0,618.4 1174.0,618.3 1175.0,617.7 1176.0,617.7 1177.0,617.8 1178.0,617.1 1179.0,616.5 1180.0,616.4 1181.0,616.4 1182.0,615.5 1183.0,615.6 1184.0,615.4 1185.0,615.0 1186.0,615.2 1187.0,615.3 1188.0,616.0 1189.0,616.4 1190.0,616.8 1191.0,617.2 1192.0,617.8 1193.0,618.2 1194.0,618.2 1195.0,618.0 1196.0,617.9 1197.0,618.2 1198.0,618.8 1199.0,619.2 1200.0,618.9 1201.0,618.9 1202.0,618.9 1203.0,618.7 1204.0,618.7 1205.0,618.6 1206.0,618.7 1207.0,619.6 1208.0,619.4 1209.0,619.0 1210.0,619.3 1211.0,619.0 1212.0,619.0 1213.0,618.9 1214.0,618.7 1215.0,619.2 1216.0,619.6 1217.0,619.2 1218.0,618.8 1219.0,618.4 1220.0,618.7 1221.0,618.9 1222.0,618.5 1223.0,618.7 1224.0,618.9 1225.0,618.5 1226.0,618.8 1227.0,618.7 1228.0,618.0 1229.0,618.6 1230.0,618.9 1231.0,618.3 1232.0,618.6 1233.0,619.2 1234.0,618.9 1235.0,618.6 1236.0,618.7 1237.0,618.9 1238.0,618.7 1239.0,618.2 1240.0,618.1 1241.0,618.2 1242.0,617.6 1243.0,617.5 1244.0,617.4 1245.0,617.3 1246.0,617.5 1247.0,617.3 1248.0,617.4 1249.0,617.0 1250.0,616.1 1251.0,615.7 1252.0,616.0 1253.0,616.5 1254.0,616.2 1255.0,616.3 1256.0,617.3 1257.0,617.6 1258.0,617.8 1259.0,618.2 1260.0,618.8 1261.0,618.5 1262.0,618.1 1263.0,618.2"/>
<g stroke="#1a1a1a" stroke-width="2.6" fill="none" stroke-linecap="square">
<rect x="91.2" y="67.4" width="1173.6" height="600.9"/>
<line x1="91.2" y1="67.4" x2="91.2" y2="57.0"/>
<line x1="91.2" y1="668.3" x2="91.2" y2="678.5"/>
<line x1="208.6" y1="67.4" x2="208.6" y2="61.0"/>
<line x1="208.6" y1="668.3" x2="208.6" y2="674.0"/>
<line x1="325.9" y1="67.4" x2="325.9" y2="57.0"/>
<line x1="325.9" y1="668.3" x2="325.9" y2="678.5"/>
<line x1="443.3" y1="67.4" x2="443.3" y2="61.0"/>
<line x1="443.3" y1="668.3" x2="443.3" y2="674.0"/>
<line x1="560.6" y1="67.4" x2="560.6" y2="57.0"/>
<line x1="560.6" y1="668.3" x2="560.6" y2="678.5"/>
<line x1="678.0" y1="67.4" x2="678.0" y2="61.0"/>
<line x1="678.0" y1="668.3" x2="678.0" y2="674.0"/>
<line x1="795.4" y1="67.4" x2="795.4" y2="57.0"/>
<line x1="795.4" y1="668.3" x2="795.4" y2="678.5"/>
<line x1="912.7" y1="67.4" x2="912.7" y2="61.0"/>
<line x1="912.7" y1="668.3" x2="912.7" y2="674.0"/>
<line x1="1030.1" y1="67.4" x2="1030.1" y2="57.0"/>
<line x1="1030.1" y1="668.3" x2="1030.1" y2="678.5"/>
<line x1="1147.4" y1="67.4" x2="1147.4" y2="61.0"/>
<line x1="1147.4" y1="668.3" x2="1147.4" y2="674.0"/>
<line x1="1264.8" y1="67.4" x2="1264.8" y2="57.0"/>
<line x1="1264.8" y1="668.3" x2="1264.8" y2="678.5"/>
</g>
<g font-weight="bold" font-size="22.5" fill="#111" text-anchor="middle">
<text x="91.2" y="45.8" textLength="31.5" lengthAdjust="spacingAndGlyphs">20</text>
<text x="91.2" y="702.3" textLength="31.5" lengthAdjust="spacingAndGlyphs">20</text>
<text x="325.9" y="45.8" textLength="31.5" lengthAdjust="spacingAndGlyphs">30</text>
<text x="325.9" y="702.3" textLength="31.5" lengthAdjust="spacingAndGlyphs">30</text>
<text x="560.6" y="45.8" textLength="31.5" lengthAdjust="spacingAndGlyphs">40</text>
<text x="560.6" y="702.3" textLength="31.5" lengthAdjust="spacingAndGlyphs">40</text>
<text x="795.4" y="45.8" textLength="31.5" lengthAdjust="spacingAndGlyphs">50</text>
<text x="795.4" y="702.3" textLength="31.5" lengthAdjust="spacingAndGlyphs">50</text>
<text x="1030.1" y="45.8" textLength="31.5" lengthAdjust="spacingAndGlyphs">60</text>
<text x="1030.1" y="702.3" textLength="31.5" lengthAdjust="spacingAndGlyphs">60</text>
<text x="1264.8" y="45.8" textLength="31.5" lengthAdjust="spacingAndGlyphs">70</text>
<text x="1264.8" y="702.3" textLength="31.5" lengthAdjust="spacingAndGlyphs">70</text>
</g>
<text x="0" y="0" font-weight="bold" font-size="41" fill="#111" text-anchor="middle" textLength="157" lengthAdjust="spacingAndGlyphs" transform="translate(55,356.5) rotate(-90)">Intensity (a.u)</text>
<text x="670" y="728" font-weight="bold" font-size="24" fill="#111" text-anchor="middle" textLength="80" lengthAdjust="spacingAndGlyphs">2<tspan font-weight="normal">θ(°)</tspan></text>
<text x="0" y="0" font-weight="bold" font-size="33" fill="#111" text-anchor="middle" textLength="44.5" lengthAdjust="spacingAndGlyphs" transform="translate(228.1,112.1) rotate(-90)">(111)</text>
<text x="0" y="0" font-weight="bold" font-size="33" fill="#111" text-anchor="middle" textLength="44.5" lengthAdjust="spacingAndGlyphs" transform="translate(279.8,143.1) rotate(-90)">(102)</text>
<text x="0" y="0" font-weight="bold" font-size="33" fill="#111" text-anchor="middle" textLength="44.5" lengthAdjust="spacingAndGlyphs" transform="translate(409.1,139.3) rotate(-90)">(201)</text>
<text x="0" y="0" font-weight="bold" font-size="33" fill="#111" text-anchor="middle" textLength="44.5" lengthAdjust="spacingAndGlyphs" transform="translate(480.6,170.9) rotate(-90)">(020)</text>
<text x="0" y="0" font-weight="bold" font-size="33" fill="#111" text-anchor="middle" textLength="44.5" lengthAdjust="spacingAndGlyphs" transform="translate(524.9,154.5) rotate(-90)">(211)</text>
<text x="0" y="0" font-weight="bold" font-size="33" fill="#111" text-anchor="middle" textLength="44.5" lengthAdjust="spacingAndGlyphs" transform="translate(557.6,178.5) rotate(-90)">(202)</text>
<text x="0" y="0" font-weight="bold" font-size="33" fill="#111" text-anchor="middle" textLength="44.5" lengthAdjust="spacingAndGlyphs" transform="translate(638.6,184.0) rotate(-90)">(022)</text>
<text x="0" y="0" font-weight="bold" font-size="33" fill="#111" text-anchor="middle" textLength="44.5" lengthAdjust="spacingAndGlyphs" transform="translate(709.6,146.9) rotate(-90)">(022)</text>
<text x="0" y="0" font-weight="bold" font-size="33" fill="#111" text-anchor="middle" textLength="44.5" lengthAdjust="spacingAndGlyphs" transform="translate(774.6,170.9) rotate(-90)">(104)</text>
<text x="0" y="0" font-weight="bold" font-size="33" fill="#111" text-anchor="middle" textLength="44.5" lengthAdjust="spacingAndGlyphs" transform="translate(819.6,185.3) rotate(-90)">(213)</text>
<text x="0" y="0" font-weight="bold" font-size="33" fill="#111" text-anchor="middle" textLength="44.5" lengthAdjust="spacingAndGlyphs" transform="translate(864.1,180.2) rotate(-90)">(311)</text>
<g font-weight="bold" font-size="29.5">
<text x="986.6" y="225" fill="#111" textLength="181" lengthAdjust="spacingAndGlyphs">CSCaCO</text>
<text x="1168" y="235.5" fill="#111" font-size="15" textLength="12.5" lengthAdjust="spacingAndGlyphs">3</text>
<text x="1181" y="225" fill="#111" textLength="60" lengthAdjust="spacingAndGlyphs">NP</text>
<text x="745" y="340.5" fill="#d60c0e" textLength="442" lengthAdjust="spacingAndGlyphs">GEF- PTXL-CSCaCO</text>
<text x="1187" y="352" fill="#d60c0e" font-size="15" textLength="11" lengthAdjust="spacingAndGlyphs">3</text>
<text x="1198" y="340.5" fill="#d60c0e" textLength="59" lengthAdjust="spacingAndGlyphs">NP</text>
<text x="863" y="474.6" fill="#d614d6" textLength="315" lengthAdjust="spacingAndGlyphs">PTXL-CSCaCO</text>
<text x="1178" y="486" fill="#d614d6" font-size="15" textLength="11" lengthAdjust="spacingAndGlyphs">3</text>
<text x="1189" y="474.6" fill="#d614d6" textLength="62" lengthAdjust="spacingAndGlyphs">NP</text>
<text x="882.2" y="595.2" fill="#0c08c0" textLength="290" lengthAdjust="spacingAndGlyphs">GEF-CSCaCO</text>
<text x="1173" y="607" fill="#0c08c0" font-size="15" textLength="11" lengthAdjust="spacingAndGlyphs">3</text>
<text x="1184" y="595.2" fill="#0c08c0" textLength="61" lengthAdjust="spacingAndGlyphs">NP</text>
</g>
<text x="649.5" y="780.5" font-size="31" fill="#333" text-anchor="middle">(<tspan font-weight="bold" fill="#0a0a0a">a</tspan>)</text>
<text x="649.5" y="1472.5" font-size="31" fill="#333" text-anchor="middle">(<tspan font-weight="bold" fill="#0a0a0a">b</tspan>)</text>
<defs>
<radialGradient id="gO" cx="0.42" cy="0.4" r="0.62"><stop offset="0" stop-color="#ff6a5a"/><stop offset="0.45" stop-color="#e41010"/><stop offset="1" stop-color="#a00000"/></radialGradient>
<radialGradient id="gOf" cx="0.42" cy="0.4" r="0.62"><stop offset="0" stop-color="#f8a0a0"/><stop offset="0.5" stop-color="#e86464"/><stop offset="1" stop-color="#d05050"/></radialGradient>
<radialGradient id="gC" cx="0.45" cy="0.42" r="0.62"><stop offset="0" stop-color="#ff8cff"/><stop offset="0.5" stop-color="#e020e0"/><stop offset="1" stop-color="#a010a0"/></radialGradient>
<radialGradient id="gCf" cx="0.45" cy="0.42" r="0.62"><stop offset="0" stop-color="#ffb0ff"/><stop offset="0.5" stop-color="#e060e0"/><stop offset="1" stop-color="#c050c0"/></radialGradient>
<radialGradient id="gCa" cx="0.5" cy="0.5" r="0.55" fx="0.49" fy="0.48"><stop offset="0" stop-color="#fff4c4"/><stop offset="0.13" stop-color="#eccb8a"/><stop offset="0.34" stop-color="#99672a"/><stop offset="0.75" stop-color="#7e5218"/><stop offset="0.95" stop-color="#5e3c10"/><stop offset="1" stop-color="#4a2e0a"/></radialGradient>
</defs>
<g stroke="#3a3a3a" stroke-width="1.4" fill="none" opacity="0.85">
<line x1="283.5" y1="910.5" x2="540.5" y2="909.5"/>
<line x1="540.5" y1="909.5" x2="563.0" y2="1011.5"/>
<line x1="563.0" y1="1011.5" x2="541.5" y2="1150.0"/>
<line x1="541.5" y1="1150.0" x2="284.5" y2="1150.5"/>
<line x1="284.5" y1="1150.5" x2="261.5" y2="1048.0"/>
<line x1="261.5" y1="1048.0" x2="283.5" y2="910.5"/>
<line x1="304.5" y1="1012.5" x2="283.5" y2="910.5"/>
<line x1="304.5" y1="1012.5" x2="563.0" y2="1011.5"/>
<line x1="304.5" y1="1012.5" x2="284.5" y2="1150.5"/>
</g>
<g stroke-linecap="butt">
<g>
<line x1="340.0" y1="873.0" x2="348.0" y2="861.5" stroke="#9a189a" stroke-width="5.2"/>
<line x1="348.0" y1="861.5" x2="356.0" y2="850.0" stroke="#a41010" stroke-width="5.2"/>
<line x1="340.0" y1="873.0" x2="348.0" y2="861.5" stroke="#de38de" stroke-width="2.6"/>
<line x1="348.0" y1="861.5" x2="356.0" y2="850.0" stroke="#e02828" stroke-width="2.6"/>
</g>
<g>
<line x1="340.0" y1="873.0" x2="319.8" y2="872.5" stroke="#9a189a" stroke-width="5.2"/>
<line x1="319.8" y1="872.5" x2="299.5" y2="872.0" stroke="#a41010" stroke-width="5.2"/>
<line x1="340.0" y1="873.0" x2="319.8" y2="872.5" stroke="#de38de" stroke-width="2.6"/>
<line x1="319.8" y1="872.5" x2="299.5" y2="872.0" stroke="#e02828" stroke-width="2.6"/>
</g>
<g>
<line x1="340.0" y1="873.0" x2="353.5" y2="884.5" stroke="#9a189a" stroke-width="5.2"/>
<line x1="353.5" y1="884.5" x2="367.0" y2="896.0" stroke="#a41010" stroke-width="5.2"/>
<line x1="340.0" y1="873.0" x2="353.5" y2="884.5" stroke="#de38de" stroke-width="2.6"/>
<line x1="353.5" y1="884.5" x2="367.0" y2="896.0" stroke="#e02828" stroke-width="2.6"/>
</g>
<g>
<line x1="367.0" y1="896.0" x2="379.0" y2="932.5" stroke="#a41010" stroke-width="5.2"/>
<line x1="379.0" y1="932.5" x2="391.0" y2="969.0" stroke="#5e3c12" stroke-width="5.2"/>
<line x1="367.0" y1="896.0" x2="379.0" y2="932.5" stroke="#e02828" stroke-width="2.6"/>
<line x1="379.0" y1="932.5" x2="391.0" y2="969.0" stroke="#8e6228" stroke-width="2.6"/>
</g>
<g>
<line x1="335.3" y1="941.6" x2="322.4" y2="930.0" stroke="#9a189a" stroke-width="5.2"/>
<line x1="322.4" y1="930.0" x2="309.5" y2="918.5" stroke="#a41010" stroke-width="5.2"/>
<line x1="335.3" y1="941.6" x2="322.4" y2="930.0" stroke="#de38de" stroke-width="2.6"/>
<line x1="322.4" y1="930.0" x2="309.5" y2="918.5" stroke="#e02828" stroke-width="2.6"/>
</g>
<g>
<line x1="335.3" y1="941.6" x2="356.2" y2="941.2" stroke="#9a189a" stroke-width="5.2"/>
<line x1="356.2" y1="941.2" x2="377.2" y2="940.7" stroke="#a41010" stroke-width="5.2"/>
<line x1="335.3" y1="941.6" x2="356.2" y2="941.2" stroke="#de38de" stroke-width="2.6"/>
<line x1="356.2" y1="941.2" x2="377.2" y2="940.7" stroke="#e02828" stroke-width="2.6"/>
</g>
<g>
<line x1="335.3" y1="941.6" x2="327.4" y2="953.0" stroke="#9a189a" stroke-width="5.2"/>
<line x1="327.4" y1="953.0" x2="319.5" y2="964.5" stroke="#a41010" stroke-width="5.2"/>
<line x1="335.3" y1="941.6" x2="327.4" y2="953.0" stroke="#de38de" stroke-width="2.6"/>
<line x1="327.4" y1="953.0" x2="319.5" y2="964.5" stroke="#e02828" stroke-width="2.6"/>
</g>
<g>
<line x1="377.2" y1="940.7" x2="384.1" y2="954.9" stroke="#a41010" stroke-width="5.2"/>
<line x1="384.1" y1="954.9" x2="391.0" y2="969.0" stroke="#5e3c12" stroke-width="5.2"/>
<line x1="377.2" y1="940.7" x2="384.1" y2="954.9" stroke="#e02828" stroke-width="2.6"/>
<line x1="384.1" y1="954.9" x2="391.0" y2="969.0" stroke="#8e6228" stroke-width="2.6"/>
</g>
<g>
<line x1="319.5" y1="964.5" x2="355.2" y2="966.8" stroke="#a41010" stroke-width="5.2"/>
<line x1="355.2" y1="966.8" x2="391.0" y2="969.0" stroke="#5e3c12" stroke-width="5.2"/>
<line x1="319.5" y1="964.5" x2="355.2" y2="966.8" stroke="#e02828" stroke-width="2.6"/>
<line x1="355.2" y1="966.8" x2="391.0" y2="969.0" stroke="#8e6228" stroke-width="2.6"/>
</g>
<g>
<line x1="319.5" y1="964.5" x2="307.2" y2="1001.5" stroke="#a41010" stroke-width="5.2"/>
<line x1="307.2" y1="1001.5" x2="295.0" y2="1038.5" stroke="#5e3c12" stroke-width="5.2"/>
<line x1="319.5" y1="964.5" x2="307.2" y2="1001.5" stroke="#e02828" stroke-width="2.6"/>
<line x1="307.2" y1="1001.5" x2="295.0" y2="1038.5" stroke="#8e6228" stroke-width="2.6"/>
</g>
<g opacity="0.7">
<line x1="363.0" y1="977.5" x2="343.7" y2="976.8" stroke="#9a189a" stroke-width="5.2"/>
<line x1="343.7" y1="976.8" x2="324.4" y2="976.0" stroke="#a41010" stroke-width="5.2"/>
<line x1="363.0" y1="977.5" x2="343.7" y2="976.8" stroke="#de38de" stroke-width="2.6"/>
<line x1="343.7" y1="976.8" x2="324.4" y2="976.0" stroke="#e02828" stroke-width="2.6"/>
</g>
<g opacity="0.7">
<line x1="363.0" y1="977.5" x2="375.1" y2="988.2" stroke="#9a189a" stroke-width="5.2"/>
<line x1="375.1" y1="988.2" x2="387.3" y2="999.0" stroke="#a41010" stroke-width="5.2"/>
<line x1="363.0" y1="977.5" x2="375.1" y2="988.2" stroke="#de38de" stroke-width="2.6"/>
<line x1="375.1" y1="988.2" x2="387.3" y2="999.0" stroke="#e02828" stroke-width="2.6"/>
</g>
<g opacity="0.7">
<line x1="363.0" y1="977.5" x2="377.0" y2="973.2" stroke="#9a189a" stroke-width="5.2"/>
<line x1="377.0" y1="973.2" x2="391.0" y2="969.0" stroke="#5e3c12" stroke-width="5.2"/>
<line x1="363.0" y1="977.5" x2="377.0" y2="973.2" stroke="#de38de" stroke-width="2.6"/>
<line x1="377.0" y1="973.2" x2="391.0" y2="969.0" stroke="#8e6228" stroke-width="2.6"/>
</g>
<g>
<line x1="337.0" y1="1019.0" x2="364.0" y2="994.0" stroke="#a41010" stroke-width="5.2"/>
<line x1="364.0" y1="994.0" x2="391.0" y2="969.0" stroke="#5e3c12" stroke-width="5.2"/>
<line x1="337.0" y1="1019.0" x2="364.0" y2="994.0" stroke="#e02828" stroke-width="2.6"/>
<line x1="364.0" y1="994.0" x2="391.0" y2="969.0" stroke="#8e6228" stroke-width="2.6"/>
</g>
<g>
<line x1="317.5" y1="1010.0" x2="325.5" y2="998.8" stroke="#9a189a" stroke-width="5.2"/>
<line x1="325.5" y1="998.8" x2="333.5" y2="987.5" stroke="#a41010" stroke-width="5.2"/>
<line x1="317.5" y1="1010.0" x2="325.5" y2="998.8" stroke="#de38de" stroke-width="2.6"/>
<line x1="325.5" y1="998.8" x2="333.5" y2="987.5" stroke="#e02828" stroke-width="2.6"/>
</g>
<g>
<line x1="317.5" y1="1010.0" x2="298.5" y2="1009.8" stroke="#9a189a" stroke-width="5.2"/>
<line x1="298.5" y1="1009.8" x2="279.5" y2="1009.5" stroke="#a41010" stroke-width="5.2"/>
<line x1="317.5" y1="1010.0" x2="298.5" y2="1009.8" stroke="#de38de" stroke-width="2.6"/>
<line x1="298.5" y1="1009.8" x2="279.5" y2="1009.5" stroke="#e02828" stroke-width="2.6"/>
</g>
<g>
<line x1="317.5" y1="1010.0" x2="330.9" y2="1021.8" stroke="#9a189a" stroke-width="5.2"/>
<line x1="330.9" y1="1021.8" x2="344.3" y2="1033.5" stroke="#a41010" stroke-width="5.2"/>
<line x1="317.5" y1="1010.0" x2="330.9" y2="1021.8" stroke="#de38de" stroke-width="2.6"/>
<line x1="330.9" y1="1021.8" x2="344.3" y2="1033.5" stroke="#e02828" stroke-width="2.6"/>
</g>
<g>
<line x1="279.5" y1="1009.5" x2="287.2" y2="1024.0" stroke="#a41010" stroke-width="5.2"/>
<line x1="287.2" y1="1024.0" x2="295.0" y2="1038.5" stroke="#5e3c12" stroke-width="5.2"/>
<line x1="279.5" y1="1009.5" x2="287.2" y2="1024.0" stroke="#e02828" stroke-width="2.6"/>
<line x1="287.2" y1="1024.0" x2="295.0" y2="1038.5" stroke="#8e6228" stroke-width="2.6"/>
</g>
<g>
<line x1="344.3" y1="1033.5" x2="319.6" y2="1036.0" stroke="#a41010" stroke-width="5.2"/>
<line x1="319.6" y1="1036.0" x2="295.0" y2="1038.5" stroke="#5e3c12" stroke-width="5.2"/>
<line x1="344.3" y1="1033.5" x2="319.6" y2="1036.0" stroke="#e02828" stroke-width="2.6"/>
<line x1="319.6" y1="1036.0" x2="295.0" y2="1038.5" stroke="#8e6228" stroke-width="2.6"/>
</g>
<g>
<line x1="359.0" y1="1044.5" x2="351.6" y2="1039.0" stroke="#9a189a" stroke-width="5.2"/>
<line x1="351.6" y1="1039.0" x2="344.3" y2="1033.5" stroke="#a41010" stroke-width="5.2"/>
<line x1="359.0" y1="1044.5" x2="351.6" y2="1039.0" stroke="#de38de" stroke-width="2.6"/>
<line x1="351.6" y1="1039.0" x2="344.3" y2="1033.5" stroke="#e02828" stroke-width="2.6"/>
</g>
<g>
<line x1="359.0" y1="1044.5" x2="379.8" y2="1043.8" stroke="#9a189a" stroke-width="5.2"/>
<line x1="379.8" y1="1043.8" x2="400.5" y2="1043.0" stroke="#a41010" stroke-width="5.2"/>
<line x1="359.0" y1="1044.5" x2="379.8" y2="1043.8" stroke="#de38de" stroke-width="2.6"/>
<line x1="379.8" y1="1043.8" x2="400.5" y2="1043.0" stroke="#e02828" stroke-width="2.6"/>
</g>
<g opacity="0.7">
<line x1="359.0" y1="1044.5" x2="351.2" y2="1055.2" stroke="#9a189a" stroke-width="5.2"/>
<line x1="351.2" y1="1055.2" x2="343.5" y2="1066.0" stroke="#a41010" stroke-width="5.2"/>
<line x1="359.0" y1="1044.5" x2="351.2" y2="1055.2" stroke="#de38de" stroke-width="2.6"/>
<line x1="351.2" y1="1055.2" x2="343.5" y2="1066.0" stroke="#e02828" stroke-width="2.6"/>
</g>
<g>
<line x1="400.5" y1="1043.0" x2="395.8" y2="1006.0" stroke="#a41010" stroke-width="5.2"/>
<line x1="395.8" y1="1006.0" x2="391.0" y2="969.0" stroke="#5e3c12" stroke-width="5.2"/>
<line x1="400.5" y1="1043.0" x2="395.8" y2="1006.0" stroke="#e02828" stroke-width="2.6"/>
<line x1="395.8" y1="1006.0" x2="391.0" y2="969.0" stroke="#8e6228" stroke-width="2.6"/>
</g>
<g>
<line x1="400.5" y1="1043.0" x2="415.2" y2="1067.5" stroke="#a41010" stroke-width="5.2"/>
<line x1="415.2" y1="1067.5" x2="430.0" y2="1092.0" stroke="#5e3c12" stroke-width="5.2"/>
<line x1="400.5" y1="1043.0" x2="415.2" y2="1067.5" stroke="#e02828" stroke-width="2.6"/>
<line x1="415.2" y1="1067.5" x2="430.0" y2="1092.0" stroke="#8e6228" stroke-width="2.6"/>
</g>
<g>
<line x1="483.3" y1="947.6" x2="469.9" y2="935.8" stroke="#9a189a" stroke-width="5.2"/>
<line x1="469.9" y1="935.8" x2="456.5" y2="924.0" stroke="#a41010" stroke-width="5.2"/>
<line x1="483.3" y1="947.6" x2="469.9" y2="935.8" stroke="#de38de" stroke-width="2.6"/>
<line x1="469.9" y1="935.8" x2="456.5" y2="924.0" stroke="#e02828" stroke-width="2.6"/>
</g>
<g>
<line x1="483.3" y1="947.6" x2="503.7" y2="948.2" stroke="#9a189a" stroke-width="5.2"/>
<line x1="503.7" y1="948.2" x2="524.1" y2="948.7" stroke="#a41010" stroke-width="5.2"/>
<line x1="483.3" y1="947.6" x2="503.7" y2="948.2" stroke="#de38de" stroke-width="2.6"/>
<line x1="503.7" y1="948.2" x2="524.1" y2="948.7" stroke="#e02828" stroke-width="2.6"/>
</g>
<g>
<line x1="483.3" y1="947.6" x2="475.2" y2="959.0" stroke="#9a189a" stroke-width="5.2"/>
<line x1="475.2" y1="959.0" x2="467.1" y2="970.3" stroke="#a41010" stroke-width="5.2"/>
<line x1="483.3" y1="947.6" x2="475.2" y2="959.0" stroke="#de38de" stroke-width="2.6"/>
<line x1="475.2" y1="959.0" x2="467.1" y2="970.3" stroke="#e02828" stroke-width="2.6"/>
</g>
<g>
<line x1="456.5" y1="924.0" x2="423.8" y2="946.5" stroke="#a41010" stroke-width="5.2"/>
<line x1="423.8" y1="946.5" x2="391.0" y2="969.0" stroke="#5e3c12" stroke-width="5.2"/>
<line x1="456.5" y1="924.0" x2="423.8" y2="946.5" stroke="#e02828" stroke-width="2.6"/>
<line x1="423.8" y1="946.5" x2="391.0" y2="969.0" stroke="#8e6228" stroke-width="2.6"/>
</g>
<g>
<line x1="467.1" y1="970.3" x2="429.1" y2="969.6" stroke="#a41010" stroke-width="5.2"/>
<line x1="429.1" y1="969.6" x2="391.0" y2="969.0" stroke="#5e3c12" stroke-width="5.2"/>
<line x1="467.1" y1="970.3" x2="429.1" y2="969.6" stroke="#e02828" stroke-width="2.6"/>
<line x1="429.1" y1="969.6" x2="391.0" y2="969.0" stroke="#8e6228" stroke-width="2.6"/>
</g>
<g>
<line x1="467.1" y1="970.3" x2="499.1" y2="996.1" stroke="#a41010" stroke-width="5.2"/>
<line x1="499.1" y1="996.1" x2="531.0" y2="1022.0" stroke="#5e3c12" stroke-width="5.2"/>
<line x1="467.1" y1="970.3" x2="499.1" y2="996.1" stroke="#e02828" stroke-width="2.6"/>
<line x1="499.1" y1="996.1" x2="531.0" y2="1022.0" stroke="#8e6228" stroke-width="2.6"/>
</g>
<g>
<line x1="524.1" y1="948.7" x2="527.5" y2="985.4" stroke="#a41010" stroke-width="5.2"/>
<line x1="527.5" y1="985.4" x2="531.0" y2="1022.0" stroke="#5e3c12" stroke-width="5.2"/>
<line x1="524.1" y1="948.7" x2="527.5" y2="985.4" stroke="#e02828" stroke-width="2.6"/>
<line x1="527.5" y1="985.4" x2="531.0" y2="1022.0" stroke="#8e6228" stroke-width="2.6"/>
</g>
<g>
<line x1="465.2" y1="1015.5" x2="473.1" y2="1004.5" stroke="#9a189a" stroke-width="5.2"/>
<line x1="473.1" y1="1004.5" x2="481.0" y2="993.5" stroke="#a41010" stroke-width="5.2"/>
<line x1="465.2" y1="1015.5" x2="473.1" y2="1004.5" stroke="#de38de" stroke-width="2.6"/>
<line x1="473.1" y1="1004.5" x2="481.0" y2="993.5" stroke="#e02828" stroke-width="2.6"/>
</g>
<g>
<line x1="465.2" y1="1015.5" x2="444.7" y2="1016.4" stroke="#9a189a" stroke-width="5.2"/>
<line x1="444.7" y1="1016.4" x2="424.2" y2="1017.3" stroke="#a41010" stroke-width="5.2"/>
<line x1="465.2" y1="1015.5" x2="444.7" y2="1016.4" stroke="#de38de" stroke-width="2.6"/>
<line x1="444.7" y1="1016.4" x2="424.2" y2="1017.3" stroke="#e02828" stroke-width="2.6"/>
</g>
<g>
<line x1="465.2" y1="1015.5" x2="478.0" y2="1027.3" stroke="#9a189a" stroke-width="5.2"/>
<line x1="478.0" y1="1027.3" x2="490.8" y2="1039.2" stroke="#a41010" stroke-width="5.2"/>
<line x1="465.2" y1="1015.5" x2="478.0" y2="1027.3" stroke="#de38de" stroke-width="2.6"/>
<line x1="478.0" y1="1027.3" x2="490.8" y2="1039.2" stroke="#e02828" stroke-width="2.6"/>
</g>
<g>
<line x1="424.2" y1="1017.3" x2="407.6" y2="993.1" stroke="#a41010" stroke-width="5.2"/>
<line x1="407.6" y1="993.1" x2="391.0" y2="969.0" stroke="#5e3c12" stroke-width="5.2"/>
<line x1="424.2" y1="1017.3" x2="407.6" y2="993.1" stroke="#e02828" stroke-width="2.6"/>
<line x1="407.6" y1="993.1" x2="391.0" y2="969.0" stroke="#8e6228" stroke-width="2.6"/>
</g>
<g>
<line x1="424.2" y1="1017.3" x2="427.1" y2="1054.7" stroke="#a41010" stroke-width="5.2"/>
<line x1="427.1" y1="1054.7" x2="430.0" y2="1092.0" stroke="#5e3c12" stroke-width="5.2"/>
<line x1="424.2" y1="1017.3" x2="427.1" y2="1054.7" stroke="#e02828" stroke-width="2.6"/>
<line x1="427.1" y1="1054.7" x2="430.0" y2="1092.0" stroke="#8e6228" stroke-width="2.6"/>
</g>
<g>
<line x1="490.8" y1="1039.2" x2="460.4" y2="1065.6" stroke="#a41010" stroke-width="5.2"/>
<line x1="460.4" y1="1065.6" x2="430.0" y2="1092.0" stroke="#5e3c12" stroke-width="5.2"/>
<line x1="490.8" y1="1039.2" x2="460.4" y2="1065.6" stroke="#e02828" stroke-width="2.6"/>
<line x1="460.4" y1="1065.6" x2="430.0" y2="1092.0" stroke="#8e6228" stroke-width="2.6"/>
</g>
<g>
<line x1="490.8" y1="1039.2" x2="510.9" y2="1030.6" stroke="#a41010" stroke-width="5.2"/>
<line x1="510.9" y1="1030.6" x2="531.0" y2="1022.0" stroke="#5e3c12" stroke-width="5.2"/>
<line x1="490.8" y1="1039.2" x2="510.9" y2="1030.6" stroke="#e02828" stroke-width="2.6"/>
<line x1="510.9" y1="1030.6" x2="531.0" y2="1022.0" stroke="#8e6228" stroke-width="2.6"/>
</g>
<g>
<line x1="481.0" y1="993.5" x2="506.0" y2="1007.8" stroke="#a41010" stroke-width="5.2"/>
<line x1="506.0" y1="1007.8" x2="531.0" y2="1022.0" stroke="#5e3c12" stroke-width="5.2"/>
<line x1="481.0" y1="993.5" x2="506.0" y2="1007.8" stroke="#e02828" stroke-width="2.6"/>
<line x1="506.0" y1="1007.8" x2="531.0" y2="1022.0" stroke="#8e6228" stroke-width="2.6"/>
</g>
<g>
<line x1="434.4" y1="1062.5" x2="432.2" y2="1077.2" stroke="#a41010" stroke-width="5.2"/>
<line x1="432.2" y1="1077.2" x2="430.0" y2="1092.0" stroke="#5e3c12" stroke-width="5.2"/>
<line x1="434.4" y1="1062.5" x2="432.2" y2="1077.2" stroke="#e02828" stroke-width="2.6"/>
<line x1="432.2" y1="1077.2" x2="430.0" y2="1092.0" stroke="#8e6228" stroke-width="2.6"/>
</g>
<g opacity="0.7">
<line x1="507.0" y1="1049.4" x2="527.4" y2="1050.2" stroke="#9a189a" stroke-width="5.2"/>
<line x1="527.4" y1="1050.2" x2="547.7" y2="1051.0" stroke="#a41010" stroke-width="5.2"/>
<line x1="507.0" y1="1049.4" x2="527.4" y2="1050.2" stroke="#de38de" stroke-width="2.6"/>
<line x1="527.4" y1="1050.2" x2="547.7" y2="1051.0" stroke="#e02828" stroke-width="2.6"/>
</g>
<g opacity="0.7">
<line x1="507.0" y1="1049.4" x2="498.8" y2="1061.0" stroke="#9a189a" stroke-width="5.2"/>
<line x1="498.8" y1="1061.0" x2="490.5" y2="1072.5" stroke="#a41010" stroke-width="5.2"/>
<line x1="507.0" y1="1049.4" x2="498.8" y2="1061.0" stroke="#de38de" stroke-width="2.6"/>
<line x1="498.8" y1="1061.0" x2="490.5" y2="1072.5" stroke="#e02828" stroke-width="2.6"/>
</g>
<g opacity="0.7">
<line x1="507.0" y1="1049.4" x2="498.9" y2="1044.3" stroke="#9a189a" stroke-width="5.2"/>
<line x1="498.9" y1="1044.3" x2="490.8" y2="1039.2" stroke="#a41010" stroke-width="5.2"/>
<line x1="507.0" y1="1049.4" x2="498.9" y2="1044.3" stroke="#de38de" stroke-width="2.6"/>
<line x1="498.9" y1="1044.3" x2="490.8" y2="1039.2" stroke="#e02828" stroke-width="2.6"/>
</g>
<g>
<line x1="620.6" y1="974.4" x2="600.2" y2="973.8" stroke="#9a189a" stroke-width="5.2"/>
<line x1="600.2" y1="973.8" x2="579.9" y2="973.3" stroke="#a41010" stroke-width="5.2"/>
<line x1="620.6" y1="974.4" x2="600.2" y2="973.8" stroke="#de38de" stroke-width="2.6"/>
<line x1="600.2" y1="973.8" x2="579.9" y2="973.3" stroke="#e02828" stroke-width="2.6"/>
</g>
<g>
<line x1="620.6" y1="974.4" x2="628.7" y2="962.6" stroke="#9a189a" stroke-width="5.2"/>
<line x1="628.7" y1="962.6" x2="636.7" y2="950.8" stroke="#a41010" stroke-width="5.2"/>
<line x1="620.6" y1="974.4" x2="628.7" y2="962.6" stroke="#de38de" stroke-width="2.6"/>
<line x1="628.7" y1="962.6" x2="636.7" y2="950.8" stroke="#e02828" stroke-width="2.6"/>
</g>
<g>
<line x1="620.6" y1="974.4" x2="633.5" y2="985.6" stroke="#9a189a" stroke-width="5.2"/>
<line x1="633.5" y1="985.6" x2="646.4" y2="996.9" stroke="#a41010" stroke-width="5.2"/>
<line x1="620.6" y1="974.4" x2="633.5" y2="985.6" stroke="#de38de" stroke-width="2.6"/>
<line x1="633.5" y1="985.6" x2="646.4" y2="996.9" stroke="#e02828" stroke-width="2.6"/>
</g>
<g>
<line x1="579.9" y1="973.3" x2="555.5" y2="997.6" stroke="#a41010" stroke-width="5.2"/>
<line x1="555.5" y1="997.6" x2="531.0" y2="1022.0" stroke="#5e3c12" stroke-width="5.2"/>
<line x1="579.9" y1="973.3" x2="555.5" y2="997.6" stroke="#e02828" stroke-width="2.6"/>
<line x1="555.5" y1="997.6" x2="531.0" y2="1022.0" stroke="#8e6228" stroke-width="2.6"/>
</g>
<g>
<line x1="615.3" y1="1043.0" x2="602.4" y2="1031.8" stroke="#9a189a" stroke-width="5.2"/>
<line x1="602.4" y1="1031.8" x2="589.5" y2="1020.5" stroke="#a41010" stroke-width="5.2"/>
<line x1="615.3" y1="1043.0" x2="602.4" y2="1031.8" stroke="#de38de" stroke-width="2.6"/>
<line x1="602.4" y1="1031.8" x2="589.5" y2="1020.5" stroke="#e02828" stroke-width="2.6"/>
</g>
<g>
<line x1="615.3" y1="1043.0" x2="636.2" y2="1042.5" stroke="#9a189a" stroke-width="5.2"/>
<line x1="636.2" y1="1042.5" x2="657.1" y2="1042.0" stroke="#a41010" stroke-width="5.2"/>
<line x1="615.3" y1="1043.0" x2="636.2" y2="1042.5" stroke="#de38de" stroke-width="2.6"/>
<line x1="636.2" y1="1042.5" x2="657.1" y2="1042.0" stroke="#e02828" stroke-width="2.6"/>
</g>
<g>
<line x1="615.3" y1="1043.0" x2="607.8" y2="1054.2" stroke="#9a189a" stroke-width="5.2"/>
<line x1="607.8" y1="1054.2" x2="600.3" y2="1065.4" stroke="#a41010" stroke-width="5.2"/>
<line x1="615.3" y1="1043.0" x2="607.8" y2="1054.2" stroke="#de38de" stroke-width="2.6"/>
<line x1="607.8" y1="1054.2" x2="600.3" y2="1065.4" stroke="#e02828" stroke-width="2.6"/>
</g>
<g>
<line x1="589.5" y1="1020.5" x2="560.2" y2="1021.2" stroke="#a41010" stroke-width="5.2"/>
<line x1="560.2" y1="1021.2" x2="531.0" y2="1022.0" stroke="#5e3c12" stroke-width="5.2"/>
<line x1="589.5" y1="1020.5" x2="560.2" y2="1021.2" stroke="#e02828" stroke-width="2.6"/>
<line x1="560.2" y1="1021.2" x2="531.0" y2="1022.0" stroke="#8e6228" stroke-width="2.6"/>
</g>
<g>
<line x1="600.3" y1="1065.4" x2="565.6" y2="1043.7" stroke="#a41010" stroke-width="5.2"/>
<line x1="565.6" y1="1043.7" x2="531.0" y2="1022.0" stroke="#5e3c12" stroke-width="5.2"/>
<line x1="600.3" y1="1065.4" x2="565.6" y2="1043.7" stroke="#e02828" stroke-width="2.6"/>
<line x1="565.6" y1="1043.7" x2="531.0" y2="1022.0" stroke="#8e6228" stroke-width="2.6"/>
</g>
<g>
<line x1="208.8" y1="1016.0" x2="216.8" y2="1004.7" stroke="#9a189a" stroke-width="5.2"/>
<line x1="216.8" y1="1004.7" x2="224.7" y2="993.4" stroke="#a41010" stroke-width="5.2"/>
<line x1="208.8" y1="1016.0" x2="216.8" y2="1004.7" stroke="#de38de" stroke-width="2.6"/>
<line x1="216.8" y1="1004.7" x2="224.7" y2="993.4" stroke="#e02828" stroke-width="2.6"/>
</g>
<g>
<line x1="208.8" y1="1016.0" x2="188.4" y2="1017.3" stroke="#9a189a" stroke-width="5.2"/>
<line x1="188.4" y1="1017.3" x2="168.0" y2="1018.6" stroke="#a41010" stroke-width="5.2"/>
<line x1="208.8" y1="1016.0" x2="188.4" y2="1017.3" stroke="#de38de" stroke-width="2.6"/>
<line x1="188.4" y1="1017.3" x2="168.0" y2="1018.6" stroke="#e02828" stroke-width="2.6"/>
</g>
<g>
<line x1="208.8" y1="1016.0" x2="221.8" y2="1027.8" stroke="#9a189a" stroke-width="5.2"/>
<line x1="221.8" y1="1027.8" x2="234.7" y2="1039.5" stroke="#a41010" stroke-width="5.2"/>
<line x1="208.8" y1="1016.0" x2="221.8" y2="1027.8" stroke="#de38de" stroke-width="2.6"/>
<line x1="221.8" y1="1027.8" x2="234.7" y2="1039.5" stroke="#e02828" stroke-width="2.6"/>
</g>
<g>
<line x1="234.7" y1="1039.5" x2="264.9" y2="1039.0" stroke="#a41010" stroke-width="5.2"/>
<line x1="264.9" y1="1039.0" x2="295.0" y2="1038.5" stroke="#5e3c12" stroke-width="5.2"/>
<line x1="234.7" y1="1039.5" x2="264.9" y2="1039.0" stroke="#e02828" stroke-width="2.6"/>
<line x1="264.9" y1="1039.0" x2="295.0" y2="1038.5" stroke="#8e6228" stroke-width="2.6"/>
</g>
<g>
<line x1="224.7" y1="993.4" x2="259.9" y2="1016.0" stroke="#a41010" stroke-width="5.2"/>
<line x1="259.9" y1="1016.0" x2="295.0" y2="1038.5" stroke="#5e3c12" stroke-width="5.2"/>
<line x1="224.7" y1="993.4" x2="259.9" y2="1016.0" stroke="#e02828" stroke-width="2.6"/>
<line x1="259.9" y1="1016.0" x2="295.0" y2="1038.5" stroke="#8e6228" stroke-width="2.6"/>
</g>
<g>
<line x1="203.8" y1="1085.7" x2="190.9" y2="1074.7" stroke="#9a189a" stroke-width="5.2"/>
<line x1="190.9" y1="1074.7" x2="177.9" y2="1063.7" stroke="#a41010" stroke-width="5.2"/>
<line x1="203.8" y1="1085.7" x2="190.9" y2="1074.7" stroke="#de38de" stroke-width="2.6"/>
<line x1="190.9" y1="1074.7" x2="177.9" y2="1063.7" stroke="#e02828" stroke-width="2.6"/>
</g>
<g>
<line x1="203.8" y1="1085.7" x2="195.8" y2="1097.2" stroke="#9a189a" stroke-width="5.2"/>
<line x1="195.8" y1="1097.2" x2="187.8" y2="1108.6" stroke="#a41010" stroke-width="5.2"/>
<line x1="203.8" y1="1085.7" x2="195.8" y2="1097.2" stroke="#de38de" stroke-width="2.6"/>
<line x1="195.8" y1="1097.2" x2="187.8" y2="1108.6" stroke="#e02828" stroke-width="2.6"/>
</g>
<g>
<line x1="203.8" y1="1085.7" x2="224.2" y2="1086.7" stroke="#9a189a" stroke-width="5.2"/>
<line x1="224.2" y1="1086.7" x2="244.6" y2="1087.6" stroke="#a41010" stroke-width="5.2"/>
<line x1="203.8" y1="1085.7" x2="224.2" y2="1086.7" stroke="#de38de" stroke-width="2.6"/>
<line x1="224.2" y1="1086.7" x2="244.6" y2="1087.6" stroke="#e02828" stroke-width="2.6"/>
</g>
<g>
<line x1="244.6" y1="1087.6" x2="269.8" y2="1063.0" stroke="#a41010" stroke-width="5.2"/>
<line x1="269.8" y1="1063.0" x2="295.0" y2="1038.5" stroke="#5e3c12" stroke-width="5.2"/>
<line x1="244.6" y1="1087.6" x2="269.8" y2="1063.0" stroke="#e02828" stroke-width="2.6"/>
<line x1="269.8" y1="1063.0" x2="295.0" y2="1038.5" stroke="#8e6228" stroke-width="2.6"/>
</g>
<g>
<line x1="341.2" y1="1112.5" x2="349.2" y2="1101.0" stroke="#9a189a" stroke-width="5.2"/>
<line x1="349.2" y1="1101.0" x2="357.2" y2="1089.6" stroke="#a41010" stroke-width="5.2"/>
<line x1="341.2" y1="1112.5" x2="349.2" y2="1101.0" stroke="#de38de" stroke-width="2.6"/>
<line x1="349.2" y1="1101.0" x2="357.2" y2="1089.6" stroke="#e02828" stroke-width="2.6"/>
</g>
<g>
<line x1="341.2" y1="1112.5" x2="320.8" y2="1112.5" stroke="#9a189a" stroke-width="5.2"/>
<line x1="320.8" y1="1112.5" x2="300.4" y2="1112.5" stroke="#a41010" stroke-width="5.2"/>
<line x1="341.2" y1="1112.5" x2="320.8" y2="1112.5" stroke="#de38de" stroke-width="2.6"/>
<line x1="320.8" y1="1112.5" x2="300.4" y2="1112.5" stroke="#e02828" stroke-width="2.6"/>
</g>
<g>
<line x1="341.2" y1="1112.5" x2="354.6" y2="1124.0" stroke="#9a189a" stroke-width="5.2"/>
<line x1="354.6" y1="1124.0" x2="368.1" y2="1135.5" stroke="#a41010" stroke-width="5.2"/>
<line x1="341.2" y1="1112.5" x2="354.6" y2="1124.0" stroke="#de38de" stroke-width="2.6"/>
<line x1="354.6" y1="1124.0" x2="368.1" y2="1135.5" stroke="#e02828" stroke-width="2.6"/>
</g>
<g>
<line x1="300.4" y1="1112.5" x2="297.7" y2="1075.5" stroke="#a41010" stroke-width="5.2"/>
<line x1="297.7" y1="1075.5" x2="295.0" y2="1038.5" stroke="#5e3c12" stroke-width="5.2"/>
<line x1="300.4" y1="1112.5" x2="297.7" y2="1075.5" stroke="#e02828" stroke-width="2.6"/>
<line x1="297.7" y1="1075.5" x2="295.0" y2="1038.5" stroke="#8e6228" stroke-width="2.6"/>
</g>
<g>
<line x1="357.2" y1="1089.6" x2="326.1" y2="1064.0" stroke="#a41010" stroke-width="5.2"/>
<line x1="326.1" y1="1064.0" x2="295.0" y2="1038.5" stroke="#5e3c12" stroke-width="5.2"/>
<line x1="357.2" y1="1089.6" x2="326.1" y2="1064.0" stroke="#e02828" stroke-width="2.6"/>
<line x1="326.1" y1="1064.0" x2="295.0" y2="1038.5" stroke="#8e6228" stroke-width="2.6"/>
</g>
<g>
<line x1="357.2" y1="1089.6" x2="393.6" y2="1090.8" stroke="#a41010" stroke-width="5.2"/>
<line x1="393.6" y1="1090.8" x2="430.0" y2="1092.0" stroke="#5e3c12" stroke-width="5.2"/>
<line x1="357.2" y1="1089.6" x2="393.6" y2="1090.8" stroke="#e02828" stroke-width="2.6"/>
<line x1="393.6" y1="1090.8" x2="430.0" y2="1092.0" stroke="#8e6228" stroke-width="2.6"/>
</g>
<g>
<line x1="368.1" y1="1135.5" x2="399.1" y2="1113.8" stroke="#a41010" stroke-width="5.2"/>
<line x1="399.1" y1="1113.8" x2="430.0" y2="1092.0" stroke="#5e3c12" stroke-width="5.2"/>
<line x1="368.1" y1="1135.5" x2="399.1" y2="1113.8" stroke="#e02828" stroke-width="2.6"/>
<line x1="399.1" y1="1113.8" x2="430.0" y2="1092.0" stroke="#8e6228" stroke-width="2.6"/>
</g>
<g>
<line x1="460.5" y1="1084.8" x2="447.4" y2="1073.7" stroke="#9a189a" stroke-width="5.2"/>
<line x1="447.4" y1="1073.7" x2="434.4" y2="1062.5" stroke="#a41010" stroke-width="5.2"/>
<line x1="460.5" y1="1084.8" x2="447.4" y2="1073.7" stroke="#de38de" stroke-width="2.6"/>
<line x1="447.4" y1="1073.7" x2="434.4" y2="1062.5" stroke="#e02828" stroke-width="2.6"/>
</g>
<g>
<line x1="460.5" y1="1084.8" x2="481.2" y2="1085.7" stroke="#9a189a" stroke-width="5.2"/>
<line x1="481.2" y1="1085.7" x2="502.0" y2="1086.5" stroke="#a41010" stroke-width="5.2"/>
<line x1="460.5" y1="1084.8" x2="481.2" y2="1085.7" stroke="#de38de" stroke-width="2.6"/>
<line x1="481.2" y1="1085.7" x2="502.0" y2="1086.5" stroke="#e02828" stroke-width="2.6"/>
</g>
<g>
<line x1="460.5" y1="1084.8" x2="452.2" y2="1096.5" stroke="#9a189a" stroke-width="5.2"/>
<line x1="452.2" y1="1096.5" x2="444.0" y2="1108.3" stroke="#a41010" stroke-width="5.2"/>
<line x1="460.5" y1="1084.8" x2="452.2" y2="1096.5" stroke="#de38de" stroke-width="2.6"/>
<line x1="452.2" y1="1096.5" x2="444.0" y2="1108.3" stroke="#e02828" stroke-width="2.6"/>
</g>
<g>
<line x1="502.0" y1="1086.5" x2="516.5" y2="1054.2" stroke="#a41010" stroke-width="5.2"/>
<line x1="516.5" y1="1054.2" x2="531.0" y2="1022.0" stroke="#5e3c12" stroke-width="5.2"/>
<line x1="502.0" y1="1086.5" x2="516.5" y2="1054.2" stroke="#e02828" stroke-width="2.6"/>
<line x1="516.5" y1="1054.2" x2="531.0" y2="1022.0" stroke="#8e6228" stroke-width="2.6"/>
</g>
<g>
<line x1="444.0" y1="1108.3" x2="437.0" y2="1100.2" stroke="#a41010" stroke-width="5.2"/>
<line x1="437.0" y1="1100.2" x2="430.0" y2="1092.0" stroke="#5e3c12" stroke-width="5.2"/>
<line x1="444.0" y1="1108.3" x2="437.0" y2="1100.2" stroke="#e02828" stroke-width="2.6"/>
<line x1="437.0" y1="1100.2" x2="430.0" y2="1092.0" stroke="#8e6228" stroke-width="2.6"/>
</g>
<g>
<line x1="502.0" y1="1086.5" x2="466.0" y2="1089.2" stroke="#a41010" stroke-width="5.2"/>
<line x1="466.0" y1="1089.2" x2="430.0" y2="1092.0" stroke="#5e3c12" stroke-width="5.2"/>
<line x1="502.0" y1="1086.5" x2="466.0" y2="1089.2" stroke="#e02828" stroke-width="2.6"/>
<line x1="466.0" y1="1089.2" x2="430.0" y2="1092.0" stroke="#8e6228" stroke-width="2.6"/>
</g>
<g opacity="0.7">
<line x1="489.0" y1="1118.0" x2="468.8" y2="1120.0" stroke="#9a189a" stroke-width="5.2"/>
<line x1="468.8" y1="1120.0" x2="448.5" y2="1122.0" stroke="#a41010" stroke-width="5.2"/>
<line x1="489.0" y1="1118.0" x2="468.8" y2="1120.0" stroke="#de38de" stroke-width="2.6"/>
<line x1="468.8" y1="1120.0" x2="448.5" y2="1122.0" stroke="#e02828" stroke-width="2.6"/>
</g>
<g>
<line x1="489.0" y1="1118.0" x2="497.5" y2="1107.8" stroke="#9a189a" stroke-width="5.2"/>
<line x1="497.5" y1="1107.8" x2="506.0" y2="1097.5" stroke="#a41010" stroke-width="5.2"/>
<line x1="489.0" y1="1118.0" x2="497.5" y2="1107.8" stroke="#de38de" stroke-width="2.6"/>
<line x1="497.5" y1="1107.8" x2="506.0" y2="1097.5" stroke="#e02828" stroke-width="2.6"/>
</g>
<g opacity="0.7">
<line x1="489.0" y1="1118.0" x2="501.8" y2="1129.5" stroke="#9a189a" stroke-width="5.2"/>
<line x1="501.8" y1="1129.5" x2="514.5" y2="1141.0" stroke="#a41010" stroke-width="5.2"/>
<line x1="489.0" y1="1118.0" x2="501.8" y2="1129.5" stroke="#de38de" stroke-width="2.6"/>
<line x1="501.8" y1="1129.5" x2="514.5" y2="1141.0" stroke="#e02828" stroke-width="2.6"/>
</g>
<g>
<line x1="484.4" y1="1187.7" x2="471.0" y2="1176.5" stroke="#9a189a" stroke-width="5.2"/>
<line x1="471.0" y1="1176.5" x2="457.6" y2="1165.2" stroke="#a41010" stroke-width="5.2"/>
<line x1="484.4" y1="1187.7" x2="471.0" y2="1176.5" stroke="#de38de" stroke-width="2.6"/>
<line x1="471.0" y1="1176.5" x2="457.6" y2="1165.2" stroke="#e02828" stroke-width="2.6"/>
</g>
<g>
<line x1="484.4" y1="1187.7" x2="504.8" y2="1188.2" stroke="#9a189a" stroke-width="5.2"/>
<line x1="504.8" y1="1188.2" x2="525.2" y2="1188.8" stroke="#a41010" stroke-width="5.2"/>
<line x1="484.4" y1="1187.7" x2="504.8" y2="1188.2" stroke="#de38de" stroke-width="2.6"/>
<line x1="504.8" y1="1188.2" x2="525.2" y2="1188.8" stroke="#e02828" stroke-width="2.6"/>
</g>
<g>
<line x1="484.4" y1="1187.7" x2="476.4" y2="1199.5" stroke="#9a189a" stroke-width="5.2"/>
<line x1="476.4" y1="1199.5" x2="468.3" y2="1211.3" stroke="#a41010" stroke-width="5.2"/>
<line x1="484.4" y1="1187.7" x2="476.4" y2="1199.5" stroke="#de38de" stroke-width="2.6"/>
<line x1="476.4" y1="1199.5" x2="468.3" y2="1211.3" stroke="#e02828" stroke-width="2.6"/>
</g>
<g>
<line x1="457.6" y1="1165.2" x2="443.8" y2="1128.6" stroke="#a41010" stroke-width="5.2"/>
<line x1="443.8" y1="1128.6" x2="430.0" y2="1092.0" stroke="#5e3c12" stroke-width="5.2"/>
<line x1="457.6" y1="1165.2" x2="443.8" y2="1128.6" stroke="#e02828" stroke-width="2.6"/>
<line x1="443.8" y1="1128.6" x2="430.0" y2="1092.0" stroke="#8e6228" stroke-width="2.6"/>
</g>
</g>
<circle cx="363.0" cy="977.5" r="8.7" fill="url(#gCf)"/>
<circle cx="324.4" cy="976.0" r="9.0" fill="url(#gOf)"/>
<circle cx="387.3" cy="999.0" r="9.0" fill="url(#gOf)"/>
<circle cx="337.0" cy="1019.0" r="9.0" fill="url(#gO)"/>
<circle cx="343.5" cy="1066.0" r="9.0" fill="url(#gOf)"/>
<circle cx="507.0" cy="1049.4" r="8.7" fill="url(#gCf)"/>
<circle cx="547.7" cy="1051.0" r="9.0" fill="url(#gOf)"/>
<circle cx="490.5" cy="1072.5" r="9.0" fill="url(#gOf)"/>
<circle cx="448.5" cy="1122.0" r="9.0" fill="url(#gOf)"/>
<circle cx="514.5" cy="1141.0" r="9.0" fill="url(#gOf)"/>
<circle cx="391.0" cy="969.0" r="23.5" fill="url(#gCa)"/>
<circle cx="295.0" cy="1038.5" r="23.5" fill="url(#gCa)"/>
<circle cx="531.0" cy="1022.0" r="23.5" fill="url(#gCa)"/>
<circle cx="430.0" cy="1092.0" r="23.5" fill="url(#gCa)"/>
<line x1="377.2" y1="940.7" x2="385.8" y2="958.2" stroke="#5a2e08" stroke-width="5" stroke-linecap="round"/>
<line x1="279.5" y1="1009.5" x2="289.1" y2="1027.5" stroke="#5a2e08" stroke-width="5" stroke-linecap="round"/>
<line x1="444.0" y1="1108.3" x2="435.3" y2="1098.2" stroke="#5a2e08" stroke-width="5" stroke-linecap="round"/>
<circle cx="356.0" cy="850.0" r="9.0" fill="url(#gO)"/>
<circle cx="340.0" cy="873.0" r="8.7" fill="url(#gC)"/>
<circle cx="299.5" cy="872.0" r="9.0" fill="url(#gO)"/>
<circle cx="367.0" cy="896.0" r="9.0" fill="url(#gO)"/>
<circle cx="309.5" cy="918.5" r="9.0" fill="url(#gO)"/>
<circle cx="335.3" cy="941.6" r="8.7" fill="url(#gC)"/>
<circle cx="377.2" cy="940.7" r="9.0" fill="url(#gO)"/>
<circle cx="319.5" cy="964.5" r="9.0" fill="url(#gO)"/>
<circle cx="333.5" cy="987.5" r="9.0" fill="url(#gO)"/>
<circle cx="317.5" cy="1010.0" r="8.7" fill="url(#gC)"/>
<circle cx="279.5" cy="1009.5" r="9.0" fill="url(#gO)"/>
<circle cx="344.3" cy="1033.5" r="9.0" fill="url(#gO)"/>
<circle cx="359.0" cy="1044.5" r="8.7" fill="url(#gC)"/>
<circle cx="400.5" cy="1043.0" r="9.0" fill="url(#gO)"/>
<circle cx="456.5" cy="924.0" r="9.0" fill="url(#gO)"/>
<circle cx="483.3" cy="947.6" r="8.7" fill="url(#gC)"/>
<circle cx="524.1" cy="948.7" r="9.0" fill="url(#gO)"/>
<circle cx="467.1" cy="970.3" r="9.0" fill="url(#gO)"/>
<circle cx="481.0" cy="993.5" r="9.0" fill="url(#gO)"/>
<circle cx="465.2" cy="1015.5" r="8.7" fill="url(#gC)"/>
<circle cx="424.2" cy="1017.3" r="9.0" fill="url(#gO)"/>
<circle cx="490.8" cy="1039.2" r="9.0" fill="url(#gO)"/>
<circle cx="434.4" cy="1062.5" r="9.0" fill="url(#gO)"/>
<circle cx="579.9" cy="973.3" r="9.0" fill="url(#gO)"/>
<circle cx="620.6" cy="974.4" r="8.7" fill="url(#gC)"/>
<circle cx="636.7" cy="950.8" r="9.0" fill="url(#gO)"/>
<circle cx="646.4" cy="996.9" r="9.0" fill="url(#gO)"/>
<circle cx="589.5" cy="1020.5" r="9.0" fill="url(#gO)"/>
<circle cx="615.3" cy="1043.0" r="8.7" fill="url(#gC)"/>
<circle cx="657.1" cy="1042.0" r="9.0" fill="url(#gO)"/>
<circle cx="600.3" cy="1065.4" r="9.0" fill="url(#gO)"/>
<circle cx="224.7" cy="993.4" r="9.0" fill="url(#gO)"/>
<circle cx="208.8" cy="1016.0" r="8.7" fill="url(#gC)"/>
<circle cx="168.0" cy="1018.6" r="9.0" fill="url(#gO)"/>
<circle cx="234.7" cy="1039.5" r="9.0" fill="url(#gO)"/>
<circle cx="177.9" cy="1063.7" r="9.0" fill="url(#gO)"/>
<circle cx="203.8" cy="1085.7" r="8.7" fill="url(#gC)"/>
<circle cx="187.8" cy="1108.6" r="9.0" fill="url(#gO)"/>
<circle cx="244.6" cy="1087.6" r="9.0" fill="url(#gO)"/>
<circle cx="357.2" cy="1089.6" r="9.0" fill="url(#gO)"/>
<circle cx="300.4" cy="1112.5" r="9.0" fill="url(#gO)"/>
<circle cx="341.2" cy="1112.5" r="8.7" fill="url(#gC)"/>
<circle cx="368.1" cy="1135.5" r="9.0" fill="url(#gO)"/>
<circle cx="460.5" cy="1084.8" r="8.7" fill="url(#gC)"/>
<circle cx="502.0" cy="1086.5" r="9.0" fill="url(#gO)"/>
<circle cx="444.0" cy="1108.3" r="9.0" fill="url(#gO)"/>
<circle cx="489.0" cy="1118.0" r="8.7" fill="url(#gC)"/>
<circle cx="506.0" cy="1097.5" r="9.0" fill="url(#gO)"/>
<circle cx="457.6" cy="1165.2" r="9.0" fill="url(#gO)"/>
<circle cx="484.4" cy="1187.7" r="8.7" fill="url(#gC)"/>
<circle cx="525.2" cy="1188.8" r="9.0" fill="url(#gO)"/>
<circle cx="468.3" cy="1211.3" r="9.0" fill="url(#gO)"/>
<g stroke="#3a3a3a" stroke-width="1.4" fill="none" opacity="0.85">
<line x1="519.0" y1="1048.0" x2="540.5" y2="909.5"/>
<line x1="519.0" y1="1048.0" x2="541.5" y2="1150.0"/>
<line x1="519.0" y1="1048.0" x2="261.5" y2="1048.0"/>
</g>
<rect x="686.5" y="815.0" width="505.5" height="602.0" fill="#d3d0d1"/>
<rect x="686.5" y="815.0" width="8" height="602.0" fill="#cbcaca"/>
<rect x="1184.0" y="815.0" width="8" height="602.0" fill="#cdcccc"/>
<g fill="#e9e5e6">
<rect x="686.5" y="855.4" width="505.5" height="2.2"/>
<rect x="686.5" y="897.6" width="505.5" height="2.2"/>
<rect x="686.5" y="940.4" width="505.5" height="2.2"/>
<rect x="686.5" y="982.9" width="505.5" height="2.2"/>
<rect x="686.5" y="1024.7" width="505.5" height="2.2"/>
<rect x="686.5" y="1067.1" width="505.5" height="2.2"/>
<rect x="686.5" y="1110.3" width="505.5" height="2.2"/>
<rect x="686.5" y="1161.5" width="505.5" height="2.2"/>
<rect x="686.5" y="1204.1" width="505.5" height="2.2"/>
<rect x="686.5" y="1246.9" width="505.5" height="2.2"/>
<rect x="686.5" y="1289.4" width="505.5" height="2.2"/>
<rect x="686.5" y="1331.9" width="505.5" height="2.2"/>
<rect x="686.5" y="1374.4" width="505.5" height="2.2"/>
<rect x="962.3" y="815.0" width="2.4" height="602.0"/>
</g>
<g font-weight="bold" font-size="27.5" fill="#111">
<text x="697" y="845.8">Formula</text>
<text x="1077.8" y="845.8" text-anchor="middle">CaCO<tspan font-size="17" dy="6">3</tspan></text>
<text x="697" y="887.6">Crystalline phase</text>
<text x="1077.8" y="887.6" text-anchor="middle">Aragonite</text>
<text x="697" y="930.1">Crystal System</text>
<text x="1077.8" y="930.1" text-anchor="middle">Orthorhombic</text>
<text x="697" y="972.8">Lattice type</text>
<text x="1077.8" y="972.8" text-anchor="middle">P</text>
<text x="697" y="1014.9">Space group name</text>
<text x="1077.8" y="1014.9" text-anchor="middle">P n m a</text>
<text x="697" y="1057.0">Space group number</text>
<text x="1077.8" y="1057.0" text-anchor="middle">62</text>
<text x="697" y="1099.8">Unit-cell volume (Å<tspan font-size="17" dy="-9">3</tspan><tspan dy="9">)</tspan></text>
<text x="1077.8" y="1099.8" text-anchor="middle">227.75</text>
<text x="697" y="1141.3">Lattice parameters</text>
<text x="825.0" y="1193.9" text-anchor="middle">a <tspan font-weight="normal">(Å)</tspan></text>
<text x="1077.8" y="1193.9" text-anchor="middle">5.75240</text>
<text x="825.0" y="1236.6" text-anchor="middle">b <tspan font-weight="normal">(Å)</tspan></text>
<text x="1077.8" y="1236.6" text-anchor="middle">4.96580</text>
<text x="825.0" y="1279.2" text-anchor="middle">c <tspan font-weight="normal">(Å)</tspan></text>
<text x="1077.8" y="1279.2" text-anchor="middle">7.97320</text>
<text x="825.0" y="1321.8" text-anchor="middle">α <tspan font-weight="normal">(˚)</tspan></text>
<text x="1077.8" y="1321.8" text-anchor="middle">90.0000</text>
<text x="825.0" y="1364.2" text-anchor="middle">β <tspan font-weight="normal">(˚)</tspan></text>
<text x="1077.8" y="1364.2" text-anchor="middle">90.0000</text>
<text x="825.0" y="1406.2" text-anchor="middle">γ <tspan font-weight="normal">(˚)</tspan></text>
<text x="1077.8" y="1406.2" text-anchor="middle">90.0000</text>
</g>
<ellipse cx="346.3" cy="1275.3" rx="25.7" ry="19.8" fill="#66290a"/>
<circle cx="349.6" cy="1328" r="11.5" fill="#e80c0c"/>
<circle cx="349.6" cy="1371" r="11.5" fill="#f010f0"/>
<g font-weight="bold" font-size="27.5" fill="#111">
<text x="393.2" y="1284.2">Calcium</text>
<text x="392.8" y="1334">Oxygen</text>
<text x="397.2" y="1377">Carbon</text>
</g>
<g>
<line x1="124" y1="1244.5" x2="170" y2="1244.5" stroke="#0a14c8" stroke-width="4.8"/>
<polygon points="168,1236.2 189.5,1244.5 168,1252.3" fill="#0a14c8"/>
<defs><radialGradient id="gW" cx="0.4" cy="0.35" r="0.7"><stop offset="0" stop-color="#ffffff"/><stop offset="0.6" stop-color="#e0e0e4"/><stop offset="1" stop-color="#9a9aa4"/></radialGradient></defs>
<path d="M122.5,1241 Q121.5,1228 118,1215" stroke="#22b822" stroke-width="5.5" fill="none"/>
<polygon points="109.5,1219 115.5,1202.5 125.5,1216.5" fill="#12d812"/>
<path d="M125,1241 L129.5,1210" stroke="#b81010" stroke-width="5" fill="none"/>
<polygon points="122.8,1209 131.7,1195.5 138.8,1213.5" fill="#d80a0a"/>
<circle cx="123.4" cy="1244.5" r="7.5" fill="url(#gW)"/>
<g style="font-family:Liberation Sans,sans-serif" font-weight="bold" font-size="16" fill="#111">
<text x="108.5" y="1197.6">b</text><text x="130.5" y="1189.3">a</text><text x="200.5" y="1249">c</text>
</g></g>
</svg></body></html>
